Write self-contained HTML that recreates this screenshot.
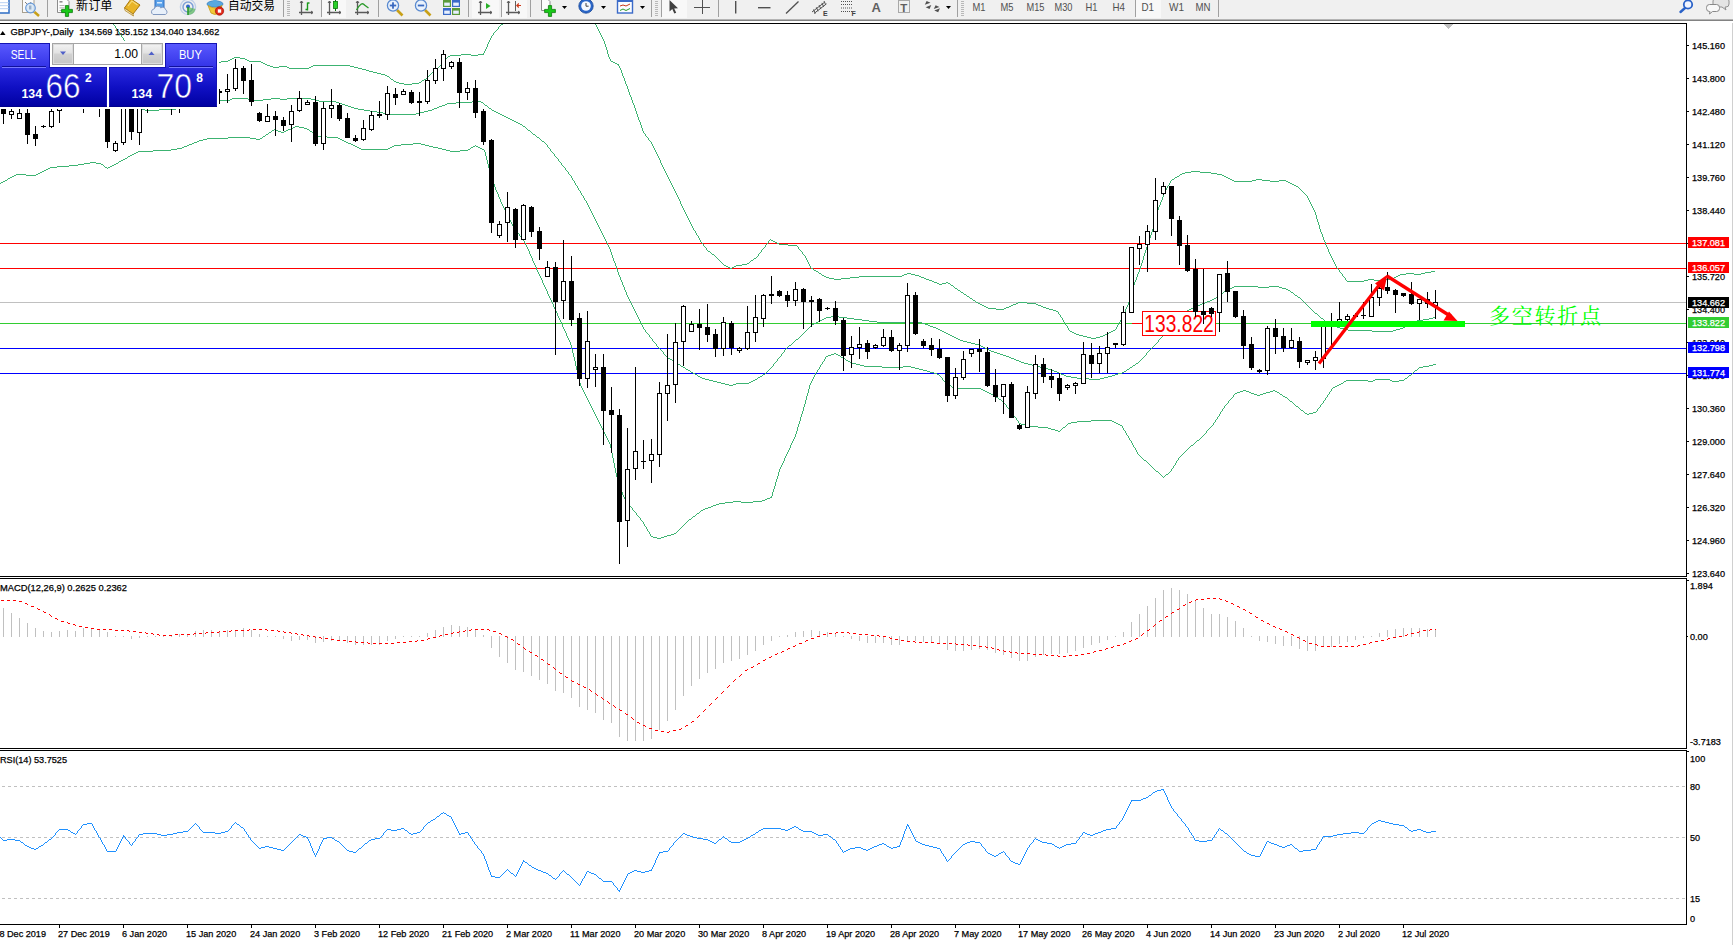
<!DOCTYPE html>
<html><head><meta charset="utf-8"><title>GBPJPY Daily</title>
<style>html,body{margin:0;padding:0;background:#fff}body{width:1733px;height:945px;overflow:hidden}svg{display:block}text{font-family:"Liberation Sans","Noto Sans CJK SC",sans-serif}</style>
</head><body>
<svg width="1733" height="945" viewBox="0 0 1733 945">
<defs>
<linearGradient id="gb" gradientUnits="userSpaceOnUse" x1="0" y1="43" x2="0" y2="68"><stop offset="0" stop-color="#5a5aff"/><stop offset="1" stop-color="#3232e6"/></linearGradient>
<linearGradient id="gp" gradientUnits="userSpaceOnUse" x1="0" y1="67" x2="0" y2="107"><stop offset="0" stop-color="#2a2ae0"/><stop offset="0.5" stop-color="#1010c4"/><stop offset="1" stop-color="#0000a0"/></linearGradient>
<linearGradient id="gs" x1="0" y1="0" x2="0" y2="1"><stop offset="0" stop-color="#f2f2f2"/><stop offset="0.45" stop-color="#e2e2e2"/><stop offset="0.5" stop-color="#d2d2d2"/><stop offset="1" stop-color="#c6c6c6"/></linearGradient>
<clipPath id="cm"><rect x="0" y="24" width="1686" height="552"/></clipPath>
</defs>
<rect x="0" y="0" width="1733" height="945" fill="#fff"/>
<g shape-rendering="crispEdges">
<g clip-path="url(#cm)">
<rect x="0" y="302" width="1686" height="1" fill="#c0c0c0"/>
<rect x="0" y="243" width="1686" height="1" fill="#ff0000"/>
<rect x="0" y="268" width="1686" height="1" fill="#ff0000"/>
<rect x="0" y="323" width="1686" height="1" fill="#32cd32"/>
<rect x="0" y="348" width="1686" height="1" fill="#0000ff"/>
<rect x="0" y="373" width="1686" height="1" fill="#0000ff"/>
<path d="M105.5 11v2M107.5 14v2M109.5 17v2M111.5 20v2M113.5 23v2M115.5 26v2M117.5 29v2M119.5 32v2M121.5 35v2M123.5 38v2M443.5 61v2M483.5 53v2M484.5 51v2M485.5 49v2M486.5 47v2M487.5 44v3M488.5 42v2M489.5 40v2M490.5 38v2M491.5 36v2M493.5 33v2M498.5 27v2M589.5 11v2M590.5 13v2M591.5 15v2M592.5 17v2M593.5 19v2M594.5 21v2M595.5 23v2M596.5 25v2M597.5 27v2M598.5 29v2M599.5 31v2M600.5 33v2M601.5 35v2M602.5 37v2M603.5 39v2M604.5 41v3M605.5 44v3M606.5 47v3M607.5 50v4M608.5 54v3M609.5 57v2M610.5 59v2M618.5 64v2M619.5 66v2M620.5 68v2M621.5 70v3M622.5 73v3M623.5 76v2M624.5 78v3M625.5 81v3M626.5 84v2M627.5 86v3M628.5 89v3M629.5 92v3M630.5 95v2M631.5 97v3M632.5 100v3M633.5 103v2M634.5 105v3M635.5 108v3M636.5 111v3M637.5 114v3M638.5 117v3M639.5 120v2M640.5 122v3M641.5 125v3M642.5 128v3M643.5 131v2M645.5 134v2M648.5 138v2M651.5 142v2M652.5 144v2M653.5 146v2M654.5 148v2M655.5 150v2M656.5 152v2M657.5 154v2M658.5 156v2M659.5 158v2M660.5 160v3M661.5 163v2M662.5 165v2M663.5 167v2M664.5 169v2M665.5 171v2M666.5 173v2M667.5 175v2M668.5 177v2M669.5 179v2M670.5 181v2M671.5 183v2M672.5 185v2M673.5 187v2M674.5 189v2M675.5 191v2M676.5 193v2M677.5 195v2M678.5 197v2M679.5 199v2M680.5 201v3M681.5 204v2M682.5 206v2M683.5 208v2M684.5 210v2M685.5 212v2M686.5 214v2M687.5 216v2M688.5 218v2M689.5 220v2M690.5 222v2M691.5 224v2M692.5 226v2M693.5 228v2M695.5 231v2M696.5 233v2M698.5 236v2M699.5 238v2M700.5 240v2M703.5 244v2M706.5 248v2M758.5 254v2M761.5 250v2M765.5 245v2M768.5 241v2M798.5 247v2M802.5 252v2M805.5 256v2M806.5 258v2M807.5 260v2M808.5 262v2M809.5 264v2M810.5 266v2M1058.5 312v2M1060.5 315v2M1062.5 318v2M1063.5 320v2M1065.5 323v2M1067.5 326v2M1068.5 328v2M1116.5 327v2M1117.5 325v2M1118.5 323v2M1120.5 320v2M1121.5 318v2M1122.5 316v2M1123.5 314v2M1124.5 312v2M1125.5 309v3M1126.5 307v2M1127.5 305v2M1128.5 302v3M1129.5 300v2M1130.5 297v3M1131.5 293v4M1132.5 289v4M1133.5 285v4M1134.5 282v3M1135.5 280v2M1136.5 277v3M1137.5 274v3M1138.5 272v2M1139.5 269v3M1140.5 266v3M1141.5 263v3M1142.5 260v3M1143.5 256v4M1144.5 253v3M1145.5 250v3M1146.5 247v3M1147.5 244v3M1148.5 241v3M1149.5 238v3M1150.5 235v3M1151.5 232v3M1152.5 229v3M1153.5 225v4M1154.5 221v4M1155.5 218v3M1156.5 214v4M1157.5 210v4M1158.5 207v3M1159.5 205v2M1160.5 202v3M1161.5 200v2M1162.5 197v3M1163.5 194v3M1164.5 192v2M1165.5 190v2M1166.5 188v2M1167.5 186v2M1169.5 183v2M1170.5 181v2M1307.5 196v2M1308.5 198v2M1309.5 200v2M1310.5 202v2M1311.5 204v2M1312.5 206v2M1313.5 208v2M1314.5 210v2M1315.5 212v3M1316.5 215v4M1317.5 219v3M1318.5 222v3M1319.5 225v4M1320.5 229v3M1321.5 232v2M1322.5 234v3M1323.5 237v3M1324.5 240v2M1325.5 242v3M1326.5 245v2M1327.5 247v2M1328.5 249v3M1329.5 252v2M1330.5 254v2M1331.5 256v2M1332.5 258v2M1333.5 260v2M1334.5 262v2M1335.5 264v2M1336.5 266v2M1339.5 270v2M1342.5 274v2M1345.5 278v2M104 10.5h1M588 10.5h1M106 13.5h1M108 16.5h1M110 19.5h1M506 20.5h1M505 21.5h1M112 22.5h1M504 22.5h1M503 23.5h1M501 24.5h2M114 25.5h1M500 25.5h1M499 26.5h1M116 28.5h1M497 29.5h1M496 30.5h1M118 31.5h1M495 31.5h1M494 32.5h1M120 34.5h1M492 35.5h1M122 37.5h1M124 40.5h1M461 54.5h10M478 54.5h5M450 55.5h11M471 55.5h7M448 56.5h2M234 57.5h6M447 57.5h1M232 58.5h2M240 58.5h5M446 58.5h1M230 59.5h2M245 59.5h2M445 59.5h1M228 60.5h2M247 60.5h2M444 60.5h1M221 61.5h7M249 61.5h12M611 61.5h2M218 62.5h3M261 62.5h2M613 62.5h2M263 63.5h2M442 63.5h1M615 63.5h2M265 64.5h2M441 64.5h1M617 64.5h1M267 65.5h3M313 65.5h37M440 65.5h1M270 66.5h3M279 66.5h8M311 66.5h2M350 66.5h4M439 66.5h1M273 67.5h6M287 67.5h2M309 67.5h2M354 67.5h4M438 67.5h1M289 68.5h20M358 68.5h4M437 68.5h1M362 69.5h4M436 69.5h1M366 70.5h3M435 70.5h1M369 71.5h4M434 71.5h1M373 72.5h4M432 72.5h2M377 73.5h4M431 73.5h1M381 74.5h4M430 74.5h1M385 75.5h2M429 75.5h1M387 76.5h2M428 76.5h1M389 77.5h1M427 77.5h1M390 78.5h1M426 78.5h1M391 79.5h2M424 79.5h2M393 80.5h1M422 80.5h2M394 81.5h2M421 81.5h1M396 82.5h3M419 82.5h2M399 83.5h5M412 83.5h7M404 84.5h8M644 133.5h1M646 136.5h1M647 137.5h1M649 140.5h1M650 141.5h1M1191 171.5h9M1185 172.5h6M1200 172.5h11M1182 173.5h3M1211 173.5h6M1180 174.5h2M1217 174.5h5M1179 175.5h1M1222 175.5h2M1177 176.5h2M1224 176.5h2M1175 177.5h2M1226 177.5h2M1174 178.5h1M1228 178.5h2M1172 179.5h2M1230 179.5h2M1256 179.5h6M1171 180.5h1M1232 180.5h2M1252 180.5h4M1262 180.5h8M1279 180.5h7M1234 181.5h18M1270 181.5h9M1286 181.5h2M1288 182.5h2M1290 183.5h2M1292 184.5h2M1168 185.5h1M1294 185.5h2M1296 186.5h2M1298 187.5h1M1299 188.5h1M1300 189.5h1M1301 190.5h1M1302 191.5h1M1303 192.5h1M1304 193.5h1M1305 194.5h1M1306 195.5h1M694 230.5h1M697 235.5h1M770 239.5h1M769 240.5h1M771 240.5h2M773 241.5h2M701 242.5h1M775 242.5h2M702 243.5h1M767 243.5h1M777 243.5h2M766 244.5h1M779 244.5h9M788 245.5h9M704 246.5h1M797 246.5h1M705 247.5h1M764 247.5h1M763 248.5h1M762 249.5h1M799 249.5h1M707 250.5h1M800 250.5h1M708 251.5h2M801 251.5h1M710 252.5h1M760 252.5h1M711 253.5h1M759 253.5h1M712 254.5h2M803 254.5h1M714 255.5h1M804 255.5h1M715 256.5h1M757 256.5h1M716 257.5h1M756 257.5h1M717 258.5h1M754 258.5h2M718 259.5h1M753 259.5h1M719 260.5h1M751 260.5h2M720 261.5h1M750 261.5h1M721 262.5h1M749 262.5h1M722 263.5h1M747 263.5h2M723 264.5h1M742 264.5h5M724 265.5h2M736 265.5h6M726 266.5h2M734 266.5h2M728 267.5h2M732 267.5h2M730 268.5h2M811 268.5h2M1337 268.5h1M813 269.5h1M1338 269.5h1M814 270.5h2M816 271.5h2M1431 271.5h4M818 272.5h1M1340 272.5h1M1425 272.5h6M819 273.5h2M907 273.5h4M1341 273.5h1M1406 273.5h8M1421 273.5h4M821 274.5h1M904 274.5h3M911 274.5h4M1400 274.5h6M1414 274.5h7M822 275.5h2M902 275.5h2M915 275.5h4M1398 275.5h2M824 276.5h2M859 276.5h43M919 276.5h2M1343 276.5h1M1396 276.5h2M826 277.5h3M850 277.5h9M921 277.5h3M1344 277.5h1M1394 277.5h2M829 278.5h5M841 278.5h9M924 278.5h2M1392 278.5h2M834 279.5h7M926 279.5h3M1368 279.5h6M1385 279.5h7M929 280.5h3M1346 280.5h1M1364 280.5h4M1374 280.5h11M932 281.5h2M1347 281.5h17M934 282.5h3M946 282.5h2M937 283.5h2M942 283.5h4M948 283.5h2M939 284.5h3M950 284.5h1M951 285.5h2M953 286.5h1M954 287.5h1M955 288.5h2M957 289.5h1M958 290.5h2M960 291.5h1M961 292.5h2M963 293.5h1M964 294.5h2M966 295.5h1M967 296.5h2M969 297.5h1M970 298.5h2M972 299.5h1M973 300.5h2M975 301.5h1M976 302.5h2M1018 302.5h9M978 303.5h2M1016 303.5h2M1027 303.5h9M980 304.5h2M1013 304.5h3M1036 304.5h2M982 305.5h2M1011 305.5h2M1038 305.5h3M984 306.5h2M1009 306.5h2M1041 306.5h2M986 307.5h2M1006 307.5h3M1043 307.5h3M988 308.5h8M1004 308.5h2M1046 308.5h3M996 309.5h8M1049 309.5h4M1053 310.5h3M1056 311.5h2M1059 314.5h1M1061 317.5h1M1064 322.5h1M1119 322.5h1M1066 325.5h1M1115 329.5h1M1069 330.5h1M1113 330.5h2M1070 331.5h2M1111 331.5h2M1072 332.5h2M1109 332.5h2M1074 333.5h2M1107 333.5h2M1076 334.5h3M1105 334.5h2M1079 335.5h4M1103 335.5h2M1083 336.5h4M1100 336.5h3M1087 337.5h4M1096 337.5h4M1091 338.5h5" fill="none" stroke="#3cb371" stroke-width="1"/>
<path d="M547.5 145v2M550.5 149v2M554.5 154v2M558.5 159v2M561.5 163v2M565.5 168v2M568.5 172v2M571.5 176v2M572.5 178v2M574.5 181v2M575.5 183v2M577.5 186v2M578.5 188v2M580.5 191v2M581.5 193v2M583.5 196v2M584.5 198v2M586.5 201v2M587.5 203v2M588.5 205v2M589.5 207v2M590.5 209v2M591.5 211v2M592.5 213v2M593.5 215v2M594.5 217v2M595.5 219v2M596.5 221v2M597.5 223v2M598.5 225v2M599.5 227v2M600.5 229v2M601.5 231v2M602.5 233v2M603.5 235v2M604.5 237v2M605.5 239v2M606.5 241v2M607.5 243v2M608.5 245v2M609.5 247v2M610.5 249v3M611.5 252v3M612.5 255v3M613.5 258v3M614.5 261v2M615.5 263v3M616.5 266v3M617.5 269v3M618.5 272v3M619.5 275v2M620.5 277v3M621.5 280v2M622.5 282v3M623.5 285v2M624.5 287v3M625.5 290v2M626.5 292v3M627.5 295v2M628.5 297v2M629.5 299v2M630.5 301v2M631.5 303v2M632.5 305v2M633.5 307v2M634.5 309v2M635.5 311v2M636.5 313v2M637.5 315v2M638.5 317v2M639.5 319v2M640.5 321v2M641.5 323v2M642.5 325v2M643.5 327v2M645.5 330v2M649.5 335v2M652.5 339v2M656.5 344v2M663.5 352v2M773.5 364v2M777.5 359v2M781.5 354v2M784.5 350v2M1146.5 353v2M1158.5 340v2M1166.5 331v2M1171.5 325v2M232 98.5h16M271 98.5h9M287 98.5h24M230 99.5h2M248 99.5h4M263 99.5h8M280 99.5h7M311 99.5h4M0 100.5h15M215 100.5h15M252 100.5h11M315 100.5h4M15 101.5h30M205 101.5h10M319 101.5h17M472 101.5h9M45 102.5h30M198 102.5h7M336 102.5h3M456 102.5h16M481 102.5h2M75 103.5h30M193 103.5h5M339 103.5h3M447 103.5h9M483 103.5h1M105 104.5h19M188 104.5h5M342 104.5h3M445 104.5h2M484 104.5h1M124 105.5h7M183 105.5h5M345 105.5h3M442 105.5h3M485 105.5h2M131 106.5h5M180 106.5h3M348 106.5h3M439 106.5h3M487 106.5h1M136 107.5h2M178 107.5h2M351 107.5h3M437 107.5h2M488 107.5h1M138 108.5h3M176 108.5h2M354 108.5h4M434 108.5h3M489 108.5h2M141 109.5h4M159 109.5h17M358 109.5h6M432 109.5h2M491 109.5h1M145 110.5h14M364 110.5h6M428 110.5h4M492 110.5h2M370 111.5h7M424 111.5h4M494 111.5h2M377 112.5h6M420 112.5h4M496 112.5h2M383 113.5h7M416 113.5h4M498 113.5h2M390 114.5h26M500 114.5h2M502 115.5h2M504 116.5h2M506 117.5h2M508 118.5h2M510 119.5h2M512 120.5h2M514 121.5h2M516 122.5h2M518 123.5h2M520 124.5h2M522 125.5h1M523 126.5h2M525 127.5h1M526 128.5h1M527 129.5h1M528 130.5h2M530 131.5h1M531 132.5h1M532 133.5h1M533 134.5h2M535 135.5h1M536 136.5h1M537 137.5h2M539 138.5h1M540 139.5h1M541 140.5h1M542 141.5h2M544 142.5h1M545 143.5h1M546 144.5h1M548 147.5h1M549 148.5h1M551 151.5h1M552 152.5h1M553 153.5h1M555 156.5h1M556 157.5h1M557 158.5h1M559 161.5h1M560 162.5h1M562 165.5h1M563 166.5h1M564 167.5h1M566 170.5h1M567 171.5h1M569 174.5h1M570 175.5h1M573 180.5h1M576 185.5h1M579 190.5h1M582 195.5h1M585 200.5h1M1234 286.5h24M1269 286.5h10M1232 287.5h2M1258 287.5h11M1279 287.5h3M1230 288.5h2M1282 288.5h4M1228 289.5h2M1286 289.5h2M1226 290.5h2M1288 290.5h2M1224 291.5h2M1290 291.5h1M1223 292.5h1M1291 292.5h2M1221 293.5h2M1293 293.5h1M1220 294.5h1M1294 294.5h1M1218 295.5h2M1295 295.5h2M1217 296.5h1M1297 296.5h1M1216 297.5h1M1298 297.5h2M1214 298.5h2M1300 298.5h1M1212 299.5h2M1301 299.5h1M1210 300.5h2M1302 300.5h1M1207 301.5h3M1303 301.5h1M1205 302.5h2M1304 302.5h1M1202 303.5h3M1305 303.5h1M1200 304.5h2M1306 304.5h1M1197 305.5h3M1307 305.5h1M1195 306.5h2M1308 306.5h1M1193 307.5h2M1309 307.5h1M1191 308.5h2M1310 308.5h1M1189 309.5h2M1311 309.5h1M1187 310.5h2M1312 310.5h1M1186 311.5h1M1313 311.5h1M1185 312.5h1M1314 312.5h1M1184 313.5h1M1315 313.5h2M1183 314.5h1M1317 314.5h1M1182 315.5h1M1318 315.5h1M831 316.5h8M1180 316.5h2M1319 316.5h1M826 317.5h5M839 317.5h8M1179 317.5h1M1320 317.5h1M1433 317.5h2M824 318.5h2M847 318.5h7M1178 318.5h1M1321 318.5h2M1429 318.5h4M822 319.5h2M854 319.5h8M1177 319.5h1M1323 319.5h1M1423 319.5h6M820 320.5h2M862 320.5h7M1176 320.5h1M1324 320.5h1M1417 320.5h6M818 321.5h2M869 321.5h8M1175 321.5h1M1325 321.5h2M1415 321.5h2M816 322.5h2M877 322.5h45M1174 322.5h1M1327 322.5h2M1413 322.5h2M814 323.5h2M922 323.5h3M1173 323.5h1M1329 323.5h2M1411 323.5h2M812 324.5h2M925 324.5h3M1172 324.5h1M1331 324.5h2M1409 324.5h2M811 325.5h1M928 325.5h2M1333 325.5h2M1407 325.5h2M810 326.5h1M930 326.5h3M1335 326.5h2M1405 326.5h2M809 327.5h1M933 327.5h3M1170 327.5h1M1337 327.5h3M1403 327.5h2M808 328.5h1M936 328.5h2M1169 328.5h1M1340 328.5h4M1400 328.5h3M644 329.5h1M807 329.5h1M938 329.5h2M1168 329.5h1M1344 329.5h4M1396 329.5h4M806 330.5h1M940 330.5h2M1167 330.5h1M1348 330.5h24M1393 330.5h3M805 331.5h1M942 331.5h2M1372 331.5h21M646 332.5h1M804 332.5h1M944 332.5h2M647 333.5h1M803 333.5h1M946 333.5h2M1165 333.5h1M648 334.5h1M802 334.5h1M948 334.5h2M1164 334.5h1M801 335.5h1M950 335.5h2M1163 335.5h1M800 336.5h1M952 336.5h2M1162 336.5h1M650 337.5h1M799 337.5h1M954 337.5h2M1161 337.5h1M651 338.5h1M798 338.5h1M956 338.5h2M1160 338.5h1M796 339.5h2M958 339.5h2M1159 339.5h1M795 340.5h1M960 340.5h3M653 341.5h1M794 341.5h1M963 341.5h4M654 342.5h1M793 342.5h1M967 342.5h4M1157 342.5h1M655 343.5h1M792 343.5h1M971 343.5h4M1156 343.5h1M791 344.5h1M975 344.5h4M1155 344.5h1M789 345.5h2M979 345.5h2M1154 345.5h1M657 346.5h1M788 346.5h1M981 346.5h2M1153 346.5h1M658 347.5h1M787 347.5h1M983 347.5h2M1152 347.5h1M659 348.5h1M786 348.5h1M985 348.5h2M1151 348.5h1M660 349.5h1M785 349.5h1M987 349.5h2M1150 349.5h1M661 350.5h1M989 350.5h2M1149 350.5h1M662 351.5h1M991 351.5h3M1148 351.5h1M783 352.5h1M994 352.5h3M1147 352.5h1M782 353.5h1M997 353.5h3M664 354.5h1M1000 354.5h3M665 355.5h1M1003 355.5h3M1145 355.5h1M666 356.5h1M780 356.5h1M1006 356.5h3M1144 356.5h1M667 357.5h1M779 357.5h1M1009 357.5h2M1143 357.5h1M668 358.5h2M778 358.5h1M1011 358.5h3M1142 358.5h1M670 359.5h2M1014 359.5h2M1141 359.5h1M672 360.5h1M1016 360.5h3M1140 360.5h1M673 361.5h2M776 361.5h1M1019 361.5h2M1139 361.5h1M675 362.5h1M775 362.5h1M1021 362.5h3M1138 362.5h1M676 363.5h2M774 363.5h1M1024 363.5h4M1136 363.5h2M678 364.5h2M1028 364.5h4M1135 364.5h1M680 365.5h1M1032 365.5h4M1133 365.5h2M681 366.5h2M772 366.5h1M1036 366.5h4M1132 366.5h1M683 367.5h2M771 367.5h1M1040 367.5h4M1130 367.5h2M685 368.5h1M770 368.5h1M1044 368.5h4M1129 368.5h1M686 369.5h2M769 369.5h1M1048 369.5h4M1127 369.5h2M688 370.5h2M768 370.5h1M1052 370.5h2M1126 370.5h1M690 371.5h1M767 371.5h1M1054 371.5h3M1124 371.5h2M691 372.5h2M766 372.5h1M1057 372.5h2M1122 372.5h2M693 373.5h2M765 373.5h1M1059 373.5h2M1118 373.5h4M695 374.5h2M763 374.5h2M1061 374.5h3M1115 374.5h3M697 375.5h1M762 375.5h1M1064 375.5h2M1112 375.5h3M698 376.5h2M760 376.5h2M1066 376.5h5M1108 376.5h4M700 377.5h2M758 377.5h2M1071 377.5h6M1104 377.5h4M702 378.5h3M757 378.5h1M1077 378.5h12M1100 378.5h4M705 379.5h4M755 379.5h2M1089 379.5h11M709 380.5h4M753 380.5h2M713 381.5h4M751 381.5h2M717 382.5h4M749 382.5h2M721 383.5h4M736 383.5h13M725 384.5h4M733 384.5h3M729 385.5h4" fill="none" stroke="#3cb371" stroke-width="1"/>
<path d="M484.5 150v2M485.5 152v4M486.5 156v4M487.5 160v4M488.5 164v4M489.5 168v3M490.5 171v3M491.5 174v3M492.5 177v4M493.5 181v3M494.5 184v3M495.5 187v3M496.5 190v2M497.5 192v2M498.5 194v3M499.5 197v2M500.5 199v3M501.5 202v2M502.5 204v2M503.5 206v2M504.5 208v2M505.5 210v2M506.5 212v2M507.5 214v2M508.5 216v2M509.5 218v2M510.5 220v2M511.5 222v2M512.5 224v2M515.5 228v2M517.5 231v2M519.5 234v2M522.5 238v2M524.5 241v2M525.5 243v2M526.5 245v2M527.5 247v2M528.5 249v2M529.5 251v3M530.5 254v2M531.5 256v2M532.5 258v3M533.5 261v2M534.5 263v2M535.5 265v2M536.5 267v3M537.5 270v2M538.5 272v2M539.5 274v2M540.5 276v2M541.5 278v2M542.5 280v3M543.5 283v2M544.5 285v2M545.5 287v2M546.5 289v2M547.5 291v3M548.5 294v2M549.5 296v2M550.5 298v2M551.5 300v2M552.5 302v2M553.5 304v3M554.5 307v2M555.5 309v2M556.5 311v2M557.5 313v3M558.5 316v2M559.5 318v2M560.5 320v2M561.5 322v2M562.5 324v3M563.5 327v2M564.5 329v2M565.5 331v2M566.5 333v3M567.5 336v2M568.5 338v2M569.5 340v2M570.5 342v3M571.5 345v4M572.5 349v4M573.5 353v4M574.5 357v4M575.5 361v5M576.5 366v4M577.5 370v4M578.5 374v5M579.5 379v4M580.5 383v3M581.5 386v2M582.5 388v2M583.5 390v2M584.5 392v2M585.5 394v2M586.5 396v2M587.5 398v2M588.5 400v2M589.5 402v2M590.5 404v2M591.5 406v2M592.5 408v2M593.5 410v2M594.5 412v2M595.5 414v2M596.5 416v2M597.5 418v2M598.5 420v2M599.5 422v2M600.5 424v2M601.5 426v2M602.5 428v2M603.5 430v2M604.5 432v2M605.5 434v2M606.5 436v2M607.5 438v2M608.5 440v2M609.5 442v2M610.5 444v4M611.5 448v5M612.5 453v5M613.5 458v5M614.5 463v5M615.5 468v5M616.5 473v4M617.5 477v3M618.5 480v3M619.5 483v3M620.5 486v3M621.5 489v3M622.5 492v3M623.5 495v2M624.5 497v2M627.5 501v2M629.5 504v2M632.5 508v2M636.5 513v2M640.5 518v2M643.5 522v2M644.5 524v2M646.5 527v2M647.5 529v2M649.5 532v2M650.5 534v2M771.5 496v2M772.5 492v4M773.5 489v3M774.5 486v3M775.5 482v4M776.5 479v3M777.5 476v3M778.5 472v4M779.5 469v3M780.5 467v2M781.5 465v2M782.5 463v2M783.5 461v2M784.5 458v3M785.5 456v2M786.5 454v2M787.5 452v2M788.5 450v2M789.5 448v2M790.5 445v3M791.5 443v2M792.5 441v2M793.5 439v2M794.5 437v2M795.5 434v3M796.5 431v3M797.5 427v4M798.5 424v3M799.5 421v3M800.5 417v4M801.5 414v3M802.5 411v3M803.5 407v4M804.5 404v3M805.5 400v4M806.5 396v4M807.5 393v3M808.5 389v4M809.5 385v4M810.5 383v2M811.5 381v2M812.5 379v2M813.5 377v2M814.5 375v2M815.5 373v2M817.5 370v2M819.5 367v2M820.5 365v2M822.5 362v2M824.5 359v2M825.5 357v2M942.5 378v2M1006.5 405v2M1011.5 411v2M1013.5 414v2M1016.5 418v2M1018.5 421v2M1122.5 426v2M1123.5 428v2M1125.5 431v2M1126.5 433v2M1128.5 436v2M1129.5 438v2M1131.5 441v2M1132.5 443v2M1133.5 445v2M1135.5 448v2M1136.5 450v2M1137.5 452v2M1171.5 469v2M1173.5 466v2M1175.5 463v2M1176.5 461v2M1178.5 458v2M1206.5 431v2M1213.5 423v2M1215.5 420v2M1217.5 417v2M1219.5 414v2M1220.5 412v2M1222.5 409v2M1224.5 406v2M1228.5 401v2M1233.5 395v2M1317.5 409v2M1320.5 405v2M1323.5 401v2M1325.5 398v2M1327.5 395v2M1329.5 392v2M1331.5 389v2M295 126.5h4M293 127.5h2M299 127.5h5M291 128.5h2M304 128.5h3M274 129.5h2M288 129.5h3M307 129.5h2M272 130.5h2M276 130.5h2M286 130.5h2M309 130.5h1M271 131.5h1M278 131.5h3M284 131.5h2M310 131.5h2M269 132.5h2M281 132.5h3M312 132.5h1M268 133.5h1M313 133.5h2M266 134.5h2M315 134.5h1M265 135.5h1M316 135.5h2M263 136.5h2M318 136.5h9M228 137.5h22M262 137.5h1M327 137.5h11M207 138.5h21M250 138.5h6M260 138.5h2M338 138.5h2M203 139.5h4M256 139.5h4M340 139.5h2M199 140.5h4M342 140.5h2M197 141.5h2M344 141.5h2M194 142.5h3M346 142.5h2M192 143.5h2M348 143.5h3M413 143.5h8M189 144.5h3M351 144.5h2M401 144.5h12M421 144.5h4M187 145.5h2M353 145.5h2M394 145.5h7M425 145.5h4M475 145.5h1M184 146.5h3M355 146.5h2M392 146.5h2M429 146.5h4M473 146.5h2M476 146.5h2M182 147.5h2M357 147.5h2M390 147.5h2M433 147.5h5M471 147.5h2M478 147.5h2M177 148.5h5M359 148.5h2M388 148.5h2M438 148.5h4M470 148.5h1M480 148.5h2M171 149.5h6M361 149.5h27M442 149.5h4M468 149.5h2M482 149.5h2M153 150.5h18M446 150.5h4M460 150.5h8M138 151.5h15M450 151.5h10M136 152.5h2M134 153.5h2M132 154.5h2M130 155.5h2M128 156.5h2M127 157.5h1M125 158.5h2M123 159.5h2M121 160.5h2M119 161.5h2M90 162.5h6M118 162.5h1M84 163.5h6M96 163.5h5M116 163.5h2M78 164.5h6M101 164.5h2M114 164.5h2M69 165.5h9M103 165.5h1M112 165.5h2M57 166.5h12M104 166.5h1M110 166.5h2M50 167.5h7M105 167.5h2M108 167.5h2M48 168.5h2M107 168.5h1M46 169.5h2M44 170.5h2M42 171.5h2M40 172.5h2M38 173.5h2M16 174.5h10M36 174.5h2M14 175.5h2M26 175.5h10M12 176.5h2M10 177.5h2M8 178.5h2M7 179.5h1M5 180.5h2M3 181.5h2M1 182.5h2M0 183.5h1M513 226.5h1M514 227.5h1M516 230.5h1M518 233.5h1M520 236.5h1M521 237.5h1M523 240.5h1M834 353.5h2M831 354.5h3M836 354.5h2M828 355.5h3M838 355.5h2M826 356.5h2M840 356.5h1M841 357.5h2M843 358.5h2M845 359.5h1M846 360.5h2M823 361.5h1M848 361.5h2M850 362.5h2M852 363.5h4M821 364.5h1M856 364.5h4M1433 364.5h3M860 365.5h4M1429 365.5h4M864 366.5h18M903 366.5h8M1423 366.5h6M882 367.5h21M911 367.5h4M1419 367.5h4M915 368.5h4M1418 368.5h1M818 369.5h1M919 369.5h4M1417 369.5h1M923 370.5h4M1415 370.5h2M927 371.5h3M1414 371.5h1M816 372.5h1M930 372.5h4M1413 372.5h1M934 373.5h3M1412 373.5h1M937 374.5h2M1411 374.5h1M939 375.5h1M1409 375.5h2M940 376.5h1M1408 376.5h1M941 377.5h1M1407 377.5h1M1405 378.5h2M1375 379.5h15M1404 379.5h1M943 380.5h1M1346 380.5h22M1373 380.5h2M1390 380.5h2M1399 380.5h5M944 381.5h1M1344 381.5h2M1368 381.5h5M1392 381.5h7M945 382.5h1M1343 382.5h1M946 383.5h2M1341 383.5h2M948 384.5h1M1339 384.5h2M949 385.5h2M1337 385.5h2M951 386.5h1M1335 386.5h2M952 387.5h2M1333 387.5h2M954 388.5h27M1332 388.5h1M981 389.5h2M983 390.5h2M1243 390.5h3M1273 390.5h2M985 391.5h2M1240 391.5h3M1246 391.5h3M1270 391.5h3M1275 391.5h2M1330 391.5h1M987 392.5h2M1237 392.5h3M1249 392.5h2M1266 392.5h4M1277 392.5h2M989 393.5h2M1235 393.5h2M1251 393.5h3M1263 393.5h3M1279 393.5h1M991 394.5h2M1234 394.5h1M1254 394.5h3M1260 394.5h3M1280 394.5h2M1328 394.5h1M993 395.5h1M1257 395.5h3M1282 395.5h1M994 396.5h2M1283 396.5h2M996 397.5h2M1232 397.5h1M1285 397.5h2M1326 397.5h1M998 398.5h1M1231 398.5h1M1287 398.5h1M999 399.5h2M1230 399.5h1M1288 399.5h1M1001 400.5h1M1229 400.5h1M1289 400.5h1M1324 400.5h1M1002 401.5h1M1290 401.5h2M1003 402.5h1M1292 402.5h1M1004 403.5h1M1227 403.5h1M1293 403.5h1M1322 403.5h1M1005 404.5h1M1226 404.5h1M1294 404.5h1M1321 404.5h1M1225 405.5h1M1295 405.5h1M1296 406.5h2M1007 407.5h1M1298 407.5h1M1319 407.5h1M1008 408.5h1M1223 408.5h1M1299 408.5h1M1318 408.5h1M1009 409.5h1M1300 409.5h1M1010 410.5h1M1301 410.5h2M1221 411.5h1M1303 411.5h1M1316 411.5h1M1304 412.5h1M1313 412.5h3M1012 413.5h1M1305 413.5h2M1309 413.5h4M1307 414.5h2M1014 416.5h1M1218 416.5h1M1015 417.5h1M1216 419.5h1M1017 420.5h1M1091 420.5h21M1077 421.5h14M1112 421.5h2M1071 422.5h6M1114 422.5h2M1214 422.5h1M1019 423.5h2M1068 423.5h3M1116 423.5h2M1021 424.5h4M1067 424.5h1M1118 424.5h2M1025 425.5h4M1066 425.5h1M1120 425.5h2M1212 425.5h1M1029 426.5h9M1065 426.5h1M1211 426.5h1M1038 427.5h10M1063 427.5h2M1210 427.5h1M1048 428.5h3M1062 428.5h1M1209 428.5h1M1051 429.5h4M1061 429.5h1M1208 429.5h1M1055 430.5h3M1060 430.5h1M1124 430.5h1M1207 430.5h1M1058 431.5h2M1205 433.5h1M1204 434.5h1M1127 435.5h1M1203 435.5h1M1202 436.5h1M1201 437.5h1M1200 438.5h1M1199 439.5h1M1130 440.5h1M1197 440.5h2M1196 441.5h1M1195 442.5h1M1194 443.5h1M1193 444.5h1M1191 445.5h2M1190 446.5h1M1134 447.5h1M1189 447.5h1M1188 448.5h1M1187 449.5h1M1186 450.5h1M1185 451.5h1M1184 452.5h1M1183 453.5h1M1138 454.5h1M1182 454.5h1M1139 455.5h1M1181 455.5h1M1140 456.5h1M1180 456.5h1M1141 457.5h1M1179 457.5h1M1142 458.5h1M1143 459.5h1M1144 460.5h2M1177 460.5h1M1146 461.5h1M1147 462.5h1M1148 463.5h1M1149 464.5h1M1150 465.5h1M1174 465.5h1M1151 466.5h1M1152 467.5h1M1153 468.5h1M1172 468.5h1M1154 469.5h1M1155 470.5h1M1156 471.5h2M1170 471.5h1M1158 472.5h1M1169 472.5h1M1159 473.5h1M1168 473.5h1M1160 474.5h1M1166 474.5h2M1161 475.5h1M1165 475.5h1M1162 476.5h1M1164 476.5h1M1163 477.5h1M770 497.5h1M767 498.5h3M625 499.5h1M765 499.5h2M626 500.5h1M762 500.5h3M733 501.5h8M753 501.5h9M725 502.5h8M741 502.5h12M628 503.5h1M719 503.5h6M716 504.5h3M713 505.5h3M630 506.5h1M711 506.5h2M631 507.5h1M708 507.5h3M705 508.5h3M703 509.5h2M633 510.5h1M701 510.5h2M634 511.5h1M700 511.5h1M635 512.5h1M699 512.5h1M697 513.5h2M696 514.5h1M637 515.5h1M695 515.5h1M638 516.5h1M693 516.5h2M639 517.5h1M692 517.5h1M691 518.5h1M689 519.5h2M641 520.5h1M688 520.5h1M642 521.5h1M687 521.5h1M686 522.5h1M685 523.5h1M684 524.5h1M683 525.5h1M645 526.5h1M682 526.5h1M681 527.5h1M680 528.5h1M679 529.5h1M678 530.5h1M648 531.5h1M677 531.5h1M676 532.5h1M674 533.5h2M671 534.5h3M667 535.5h4M651 536.5h2M664 536.5h3M653 537.5h4M661 537.5h3M657 538.5h4" fill="none" stroke="#3cb371" stroke-width="1"/>
<rect x="1132" y="323" width="11" height="1" fill="#ff0000"/>
<rect x="1142.5" y="311.5" width="73" height="24" fill="#fff" stroke="#ff0000" stroke-width="1"/>
<text x="1144.3" y="331.8" font-size="23.6" fill="#ff0000" textLength="69.5" lengthAdjust="spacingAndGlyphs" shape-rendering="auto">133.822</text>
<rect x="3" y="100" width="1" height="24" fill="#000"/>
<rect x="1" y="104" width="5" height="10" fill="#000"/>
<rect x="11" y="104" width="1" height="15" fill="#000"/>
<rect x="9" y="111" width="5" height="4" fill="#000"/>
<rect x="10" y="112" width="3" height="2" fill="#fff"/>
<rect x="19" y="109" width="1" height="10" fill="#000"/>
<rect x="17" y="113" width="5" height="6" fill="#000"/>
<rect x="18" y="114" width="3" height="4" fill="#fff"/>
<rect x="27" y="109" width="1" height="35" fill="#000"/>
<rect x="25" y="113" width="5" height="22" fill="#000"/>
<rect x="35" y="126" width="1" height="20" fill="#000"/>
<rect x="33" y="134" width="5" height="5" fill="#000"/>
<rect x="43" y="125" width="1" height="3" fill="#000"/>
<rect x="41" y="126" width="5" height="1" fill="#000"/>
<rect x="51" y="106" width="1" height="22" fill="#000"/>
<rect x="49" y="111" width="5" height="16" fill="#000"/>
<rect x="50" y="112" width="3" height="14" fill="#fff"/>
<rect x="59" y="100" width="1" height="23" fill="#000"/>
<rect x="57" y="106" width="5" height="5" fill="#000"/>
<rect x="58" y="107" width="3" height="3" fill="#fff"/>
<rect x="67" y="95" width="1" height="11" fill="#000"/>
<rect x="65" y="98" width="5" height="6" fill="#000"/>
<rect x="66" y="99" width="3" height="4" fill="#fff"/>
<rect x="83" y="90" width="1" height="23" fill="#000"/>
<rect x="81" y="95" width="5" height="5" fill="#000"/>
<rect x="82" y="96" width="3" height="3" fill="#fff"/>
<rect x="99" y="95" width="1" height="22" fill="#000"/>
<rect x="97" y="100" width="5" height="5" fill="#000"/>
<rect x="107" y="100" width="1" height="48" fill="#000"/>
<rect x="105" y="103" width="5" height="39" fill="#000"/>
<rect x="115" y="141" width="1" height="11" fill="#000"/>
<rect x="113" y="143" width="5" height="8" fill="#000"/>
<rect x="114" y="144" width="3" height="6" fill="#fff"/>
<rect x="123" y="100" width="1" height="45" fill="#000"/>
<rect x="121" y="104" width="5" height="39" fill="#000"/>
<rect x="122" y="105" width="3" height="37" fill="#fff"/>
<rect x="131" y="100" width="1" height="40" fill="#000"/>
<rect x="129" y="104" width="5" height="28" fill="#000"/>
<rect x="139" y="98" width="1" height="47" fill="#000"/>
<rect x="137" y="104" width="5" height="29" fill="#000"/>
<rect x="138" y="105" width="3" height="27" fill="#fff"/>
<rect x="147" y="90" width="1" height="23" fill="#000"/>
<rect x="145" y="95" width="5" height="9" fill="#000"/>
<rect x="146" y="96" width="3" height="7" fill="#fff"/>
<rect x="171" y="90" width="1" height="25" fill="#000"/>
<rect x="169" y="95" width="5" height="9" fill="#000"/>
<rect x="170" y="96" width="3" height="7" fill="#fff"/>
<rect x="179" y="90" width="1" height="23" fill="#000"/>
<rect x="177" y="95" width="5" height="9" fill="#000"/>
<rect x="178" y="96" width="3" height="7" fill="#fff"/>
<rect x="219" y="89" width="1" height="15" fill="#000"/>
<rect x="217" y="91" width="5" height="2" fill="#000"/>
<rect x="227" y="74" width="1" height="29" fill="#000"/>
<rect x="225" y="89" width="5" height="3" fill="#000"/>
<rect x="226" y="90" width="3" height="1" fill="#fff"/>
<rect x="235" y="59" width="1" height="32" fill="#000"/>
<rect x="233" y="68" width="5" height="21" fill="#000"/>
<rect x="234" y="69" width="3" height="19" fill="#fff"/>
<rect x="243" y="66" width="1" height="28" fill="#000"/>
<rect x="241" y="68" width="5" height="13" fill="#000"/>
<rect x="251" y="64" width="1" height="42" fill="#000"/>
<rect x="249" y="80" width="5" height="22" fill="#000"/>
<rect x="259" y="112" width="1" height="10" fill="#000"/>
<rect x="257" y="113" width="5" height="8" fill="#000"/>
<rect x="267" y="104" width="1" height="18" fill="#000"/>
<rect x="265" y="116" width="5" height="6" fill="#000"/>
<rect x="266" y="117" width="3" height="4" fill="#fff"/>
<rect x="275" y="111" width="1" height="25" fill="#000"/>
<rect x="273" y="116" width="5" height="4" fill="#000"/>
<rect x="283" y="117" width="1" height="14" fill="#000"/>
<rect x="281" y="120" width="5" height="6" fill="#000"/>
<rect x="291" y="105" width="1" height="37" fill="#000"/>
<rect x="289" y="111" width="5" height="14" fill="#000"/>
<rect x="290" y="112" width="3" height="12" fill="#fff"/>
<rect x="299" y="91" width="1" height="21" fill="#000"/>
<rect x="297" y="98" width="5" height="13" fill="#000"/>
<rect x="298" y="99" width="3" height="11" fill="#fff"/>
<rect x="307" y="100" width="1" height="5" fill="#000"/>
<rect x="305" y="102" width="5" height="3" fill="#000"/>
<rect x="306" y="103" width="3" height="1" fill="#fff"/>
<rect x="315" y="96" width="1" height="50" fill="#000"/>
<rect x="313" y="102" width="5" height="42" fill="#000"/>
<rect x="323" y="102" width="1" height="48" fill="#000"/>
<rect x="321" y="108" width="5" height="36" fill="#000"/>
<rect x="322" y="109" width="3" height="34" fill="#fff"/>
<rect x="331" y="89" width="1" height="29" fill="#000"/>
<rect x="329" y="105" width="5" height="4" fill="#000"/>
<rect x="330" y="106" width="3" height="2" fill="#fff"/>
<rect x="339" y="103" width="1" height="18" fill="#000"/>
<rect x="337" y="105" width="5" height="14" fill="#000"/>
<rect x="347" y="113" width="1" height="25" fill="#000"/>
<rect x="345" y="118" width="5" height="20" fill="#000"/>
<rect x="355" y="135" width="1" height="7" fill="#000"/>
<rect x="353" y="138" width="5" height="3" fill="#000"/>
<rect x="363" y="120" width="1" height="21" fill="#000"/>
<rect x="361" y="128" width="5" height="12" fill="#000"/>
<rect x="362" y="129" width="3" height="10" fill="#fff"/>
<rect x="371" y="111" width="1" height="20" fill="#000"/>
<rect x="369" y="115" width="5" height="15" fill="#000"/>
<rect x="370" y="116" width="3" height="13" fill="#fff"/>
<rect x="379" y="101" width="1" height="17" fill="#000"/>
<rect x="377" y="114" width="5" height="2" fill="#000"/>
<rect x="387" y="86" width="1" height="34" fill="#000"/>
<rect x="385" y="93" width="5" height="22" fill="#000"/>
<rect x="386" y="94" width="3" height="20" fill="#fff"/>
<rect x="395" y="88" width="1" height="17" fill="#000"/>
<rect x="393" y="94" width="5" height="4" fill="#000"/>
<rect x="403" y="89" width="1" height="6" fill="#000"/>
<rect x="401" y="91" width="5" height="4" fill="#000"/>
<rect x="402" y="92" width="3" height="2" fill="#fff"/>
<rect x="411" y="90" width="1" height="14" fill="#000"/>
<rect x="409" y="92" width="5" height="11" fill="#000"/>
<rect x="419" y="92" width="1" height="24" fill="#000"/>
<rect x="417" y="101" width="5" height="2" fill="#000"/>
<rect x="427" y="70" width="1" height="34" fill="#000"/>
<rect x="425" y="80" width="5" height="22" fill="#000"/>
<rect x="426" y="81" width="3" height="20" fill="#fff"/>
<rect x="435" y="59" width="1" height="25" fill="#000"/>
<rect x="433" y="68" width="5" height="13" fill="#000"/>
<rect x="434" y="69" width="3" height="11" fill="#fff"/>
<rect x="443" y="50" width="1" height="31" fill="#000"/>
<rect x="441" y="54" width="5" height="15" fill="#000"/>
<rect x="442" y="55" width="3" height="13" fill="#fff"/>
<rect x="451" y="61" width="1" height="8" fill="#000"/>
<rect x="449" y="62" width="5" height="5" fill="#000"/>
<rect x="450" y="63" width="3" height="3" fill="#fff"/>
<rect x="459" y="58" width="1" height="50" fill="#000"/>
<rect x="457" y="62" width="5" height="31" fill="#000"/>
<rect x="467" y="82" width="1" height="18" fill="#000"/>
<rect x="465" y="88" width="5" height="5" fill="#000"/>
<rect x="466" y="89" width="3" height="3" fill="#fff"/>
<rect x="475" y="80" width="1" height="38" fill="#000"/>
<rect x="473" y="88" width="5" height="25" fill="#000"/>
<rect x="483" y="109" width="1" height="36" fill="#000"/>
<rect x="481" y="111" width="5" height="31" fill="#000"/>
<rect x="491" y="139" width="1" height="94" fill="#000"/>
<rect x="489" y="140" width="5" height="83" fill="#000"/>
<rect x="499" y="221" width="1" height="17" fill="#000"/>
<rect x="497" y="224" width="5" height="12" fill="#000"/>
<rect x="498" y="225" width="3" height="10" fill="#fff"/>
<rect x="507" y="192" width="1" height="50" fill="#000"/>
<rect x="505" y="207" width="5" height="16" fill="#000"/>
<rect x="506" y="208" width="3" height="14" fill="#fff"/>
<rect x="515" y="208" width="1" height="40" fill="#000"/>
<rect x="513" y="209" width="5" height="31" fill="#000"/>
<rect x="523" y="204" width="1" height="36" fill="#000"/>
<rect x="521" y="205" width="5" height="35" fill="#000"/>
<rect x="522" y="206" width="3" height="33" fill="#fff"/>
<rect x="531" y="206" width="1" height="31" fill="#000"/>
<rect x="529" y="207" width="5" height="25" fill="#000"/>
<rect x="539" y="227" width="1" height="33" fill="#000"/>
<rect x="537" y="231" width="5" height="18" fill="#000"/>
<rect x="547" y="261" width="1" height="16" fill="#000"/>
<rect x="545" y="267" width="5" height="10" fill="#000"/>
<rect x="546" y="268" width="3" height="8" fill="#fff"/>
<rect x="555" y="262" width="1" height="93" fill="#000"/>
<rect x="553" y="267" width="5" height="35" fill="#000"/>
<rect x="563" y="240" width="1" height="79" fill="#000"/>
<rect x="561" y="281" width="5" height="20" fill="#000"/>
<rect x="562" y="282" width="3" height="18" fill="#fff"/>
<rect x="571" y="256" width="1" height="70" fill="#000"/>
<rect x="569" y="281" width="5" height="39" fill="#000"/>
<rect x="579" y="313" width="1" height="73" fill="#000"/>
<rect x="577" y="318" width="5" height="61" fill="#000"/>
<rect x="587" y="311" width="1" height="77" fill="#000"/>
<rect x="585" y="341" width="5" height="38" fill="#000"/>
<rect x="586" y="342" width="3" height="36" fill="#fff"/>
<rect x="595" y="354" width="1" height="33" fill="#000"/>
<rect x="593" y="367" width="5" height="3" fill="#000"/>
<rect x="594" y="368" width="3" height="1" fill="#fff"/>
<rect x="603" y="354" width="1" height="91" fill="#000"/>
<rect x="601" y="367" width="5" height="44" fill="#000"/>
<rect x="611" y="387" width="1" height="66" fill="#000"/>
<rect x="609" y="410" width="5" height="5" fill="#000"/>
<rect x="619" y="409" width="1" height="155" fill="#000"/>
<rect x="617" y="415" width="5" height="107" fill="#000"/>
<rect x="627" y="428" width="1" height="119" fill="#000"/>
<rect x="625" y="469" width="5" height="52" fill="#000"/>
<rect x="626" y="470" width="3" height="50" fill="#fff"/>
<rect x="635" y="367" width="1" height="113" fill="#000"/>
<rect x="633" y="451" width="5" height="18" fill="#000"/>
<rect x="634" y="452" width="3" height="16" fill="#fff"/>
<rect x="643" y="440" width="1" height="29" fill="#000"/>
<rect x="641" y="461" width="5" height="1" fill="#000"/>
<rect x="651" y="439" width="1" height="44" fill="#000"/>
<rect x="649" y="454" width="5" height="7" fill="#000"/>
<rect x="650" y="455" width="3" height="5" fill="#fff"/>
<rect x="659" y="382" width="1" height="85" fill="#000"/>
<rect x="657" y="393" width="5" height="62" fill="#000"/>
<rect x="658" y="394" width="3" height="60" fill="#fff"/>
<rect x="667" y="334" width="1" height="87" fill="#000"/>
<rect x="665" y="385" width="5" height="9" fill="#000"/>
<rect x="666" y="386" width="3" height="7" fill="#fff"/>
<rect x="675" y="323" width="1" height="80" fill="#000"/>
<rect x="673" y="342" width="5" height="43" fill="#000"/>
<rect x="674" y="343" width="3" height="41" fill="#fff"/>
<rect x="683" y="305" width="1" height="61" fill="#000"/>
<rect x="681" y="306" width="5" height="36" fill="#000"/>
<rect x="682" y="307" width="3" height="34" fill="#fff"/>
<rect x="691" y="321" width="1" height="11" fill="#000"/>
<rect x="689" y="324" width="5" height="8" fill="#000"/>
<rect x="690" y="325" width="3" height="6" fill="#fff"/>
<rect x="699" y="309" width="1" height="41" fill="#000"/>
<rect x="697" y="324" width="5" height="4" fill="#000"/>
<rect x="707" y="304" width="1" height="38" fill="#000"/>
<rect x="705" y="327" width="5" height="8" fill="#000"/>
<rect x="715" y="329" width="1" height="28" fill="#000"/>
<rect x="713" y="334" width="5" height="15" fill="#000"/>
<rect x="723" y="317" width="1" height="39" fill="#000"/>
<rect x="721" y="322" width="5" height="27" fill="#000"/>
<rect x="722" y="323" width="3" height="25" fill="#fff"/>
<rect x="731" y="321" width="1" height="34" fill="#000"/>
<rect x="729" y="323" width="5" height="25" fill="#000"/>
<rect x="739" y="347" width="1" height="6" fill="#000"/>
<rect x="737" y="348" width="5" height="3" fill="#000"/>
<rect x="738" y="349" width="3" height="1" fill="#fff"/>
<rect x="747" y="306" width="1" height="44" fill="#000"/>
<rect x="745" y="332" width="5" height="17" fill="#000"/>
<rect x="746" y="333" width="3" height="15" fill="#fff"/>
<rect x="755" y="295" width="1" height="47" fill="#000"/>
<rect x="753" y="317" width="5" height="16" fill="#000"/>
<rect x="754" y="318" width="3" height="14" fill="#fff"/>
<rect x="763" y="294" width="1" height="33" fill="#000"/>
<rect x="761" y="295" width="5" height="24" fill="#000"/>
<rect x="762" y="296" width="3" height="22" fill="#fff"/>
<rect x="771" y="276" width="1" height="28" fill="#000"/>
<rect x="769" y="294" width="5" height="2" fill="#000"/>
<rect x="779" y="290" width="1" height="7" fill="#000"/>
<rect x="777" y="291" width="5" height="5" fill="#000"/>
<rect x="787" y="291" width="1" height="16" fill="#000"/>
<rect x="785" y="295" width="5" height="6" fill="#000"/>
<rect x="795" y="282" width="1" height="24" fill="#000"/>
<rect x="793" y="289" width="5" height="12" fill="#000"/>
<rect x="794" y="290" width="3" height="10" fill="#fff"/>
<rect x="803" y="288" width="1" height="41" fill="#000"/>
<rect x="801" y="289" width="5" height="13" fill="#000"/>
<rect x="811" y="296" width="1" height="31" fill="#000"/>
<rect x="809" y="300" width="5" height="2" fill="#000"/>
<rect x="819" y="298" width="1" height="24" fill="#000"/>
<rect x="817" y="299" width="5" height="12" fill="#000"/>
<rect x="827" y="307" width="1" height="3" fill="#000"/>
<rect x="825" y="308" width="5" height="1" fill="#000"/>
<rect x="835" y="301" width="1" height="24" fill="#000"/>
<rect x="833" y="308" width="5" height="13" fill="#000"/>
<rect x="843" y="318" width="1" height="53" fill="#000"/>
<rect x="841" y="320" width="5" height="36" fill="#000"/>
<rect x="851" y="336" width="1" height="32" fill="#000"/>
<rect x="849" y="347" width="5" height="8" fill="#000"/>
<rect x="850" y="348" width="3" height="6" fill="#fff"/>
<rect x="859" y="327" width="1" height="32" fill="#000"/>
<rect x="857" y="344" width="5" height="4" fill="#000"/>
<rect x="858" y="345" width="3" height="2" fill="#fff"/>
<rect x="867" y="340" width="1" height="19" fill="#000"/>
<rect x="865" y="343" width="5" height="9" fill="#000"/>
<rect x="875" y="344" width="1" height="5" fill="#000"/>
<rect x="873" y="345" width="5" height="3" fill="#000"/>
<rect x="874" y="346" width="3" height="1" fill="#fff"/>
<rect x="883" y="329" width="1" height="18" fill="#000"/>
<rect x="881" y="337" width="5" height="9" fill="#000"/>
<rect x="882" y="338" width="3" height="7" fill="#fff"/>
<rect x="891" y="330" width="1" height="22" fill="#000"/>
<rect x="889" y="337" width="5" height="14" fill="#000"/>
<rect x="899" y="343" width="1" height="27" fill="#000"/>
<rect x="897" y="345" width="5" height="6" fill="#000"/>
<rect x="898" y="346" width="3" height="4" fill="#fff"/>
<rect x="907" y="283" width="1" height="69" fill="#000"/>
<rect x="905" y="295" width="5" height="51" fill="#000"/>
<rect x="906" y="296" width="3" height="49" fill="#fff"/>
<rect x="915" y="292" width="1" height="43" fill="#000"/>
<rect x="913" y="295" width="5" height="39" fill="#000"/>
<rect x="923" y="339" width="1" height="9" fill="#000"/>
<rect x="921" y="341" width="5" height="5" fill="#000"/>
<rect x="931" y="338" width="1" height="18" fill="#000"/>
<rect x="929" y="345" width="5" height="5" fill="#000"/>
<rect x="939" y="339" width="1" height="20" fill="#000"/>
<rect x="937" y="349" width="5" height="9" fill="#000"/>
<rect x="947" y="357" width="1" height="45" fill="#000"/>
<rect x="945" y="357" width="5" height="39" fill="#000"/>
<rect x="955" y="368" width="1" height="31" fill="#000"/>
<rect x="953" y="377" width="5" height="19" fill="#000"/>
<rect x="954" y="378" width="3" height="17" fill="#fff"/>
<rect x="963" y="351" width="1" height="29" fill="#000"/>
<rect x="961" y="359" width="5" height="19" fill="#000"/>
<rect x="962" y="360" width="3" height="17" fill="#fff"/>
<rect x="971" y="349" width="1" height="8" fill="#000"/>
<rect x="969" y="349" width="5" height="5" fill="#000"/>
<rect x="970" y="350" width="3" height="3" fill="#fff"/>
<rect x="979" y="339" width="1" height="33" fill="#000"/>
<rect x="977" y="349" width="5" height="3" fill="#000"/>
<rect x="987" y="347" width="1" height="40" fill="#000"/>
<rect x="985" y="352" width="5" height="34" fill="#000"/>
<rect x="995" y="369" width="1" height="33" fill="#000"/>
<rect x="993" y="385" width="5" height="12" fill="#000"/>
<rect x="1003" y="384" width="1" height="30" fill="#000"/>
<rect x="1001" y="384" width="5" height="13" fill="#000"/>
<rect x="1002" y="385" width="3" height="11" fill="#fff"/>
<rect x="1011" y="382" width="1" height="36" fill="#000"/>
<rect x="1009" y="384" width="5" height="34" fill="#000"/>
<rect x="1019" y="424" width="1" height="6" fill="#000"/>
<rect x="1017" y="425" width="5" height="4" fill="#000"/>
<rect x="1027" y="386" width="1" height="42" fill="#000"/>
<rect x="1025" y="392" width="5" height="36" fill="#000"/>
<rect x="1026" y="393" width="3" height="34" fill="#fff"/>
<rect x="1035" y="355" width="1" height="44" fill="#000"/>
<rect x="1033" y="364" width="5" height="30" fill="#000"/>
<rect x="1034" y="365" width="3" height="28" fill="#fff"/>
<rect x="1043" y="358" width="1" height="25" fill="#000"/>
<rect x="1041" y="364" width="5" height="13" fill="#000"/>
<rect x="1051" y="369" width="1" height="19" fill="#000"/>
<rect x="1049" y="376" width="5" height="4" fill="#000"/>
<rect x="1059" y="373" width="1" height="28" fill="#000"/>
<rect x="1057" y="378" width="5" height="16" fill="#000"/>
<rect x="1067" y="384" width="1" height="6" fill="#000"/>
<rect x="1065" y="385" width="5" height="3" fill="#000"/>
<rect x="1066" y="386" width="3" height="1" fill="#fff"/>
<rect x="1075" y="382" width="1" height="12" fill="#000"/>
<rect x="1073" y="383" width="5" height="3" fill="#000"/>
<rect x="1074" y="384" width="3" height="1" fill="#fff"/>
<rect x="1083" y="342" width="1" height="41" fill="#000"/>
<rect x="1081" y="354" width="5" height="30" fill="#000"/>
<rect x="1082" y="355" width="3" height="28" fill="#fff"/>
<rect x="1091" y="343" width="1" height="35" fill="#000"/>
<rect x="1089" y="355" width="5" height="9" fill="#000"/>
<rect x="1099" y="346" width="1" height="27" fill="#000"/>
<rect x="1097" y="353" width="5" height="11" fill="#000"/>
<rect x="1098" y="354" width="3" height="9" fill="#fff"/>
<rect x="1107" y="332" width="1" height="41" fill="#000"/>
<rect x="1105" y="347" width="5" height="7" fill="#000"/>
<rect x="1106" y="348" width="3" height="5" fill="#fff"/>
<rect x="1115" y="343" width="1" height="5" fill="#000"/>
<rect x="1113" y="343" width="5" height="2" fill="#000"/>
<rect x="1123" y="306" width="1" height="40" fill="#000"/>
<rect x="1121" y="312" width="5" height="33" fill="#000"/>
<rect x="1122" y="313" width="3" height="31" fill="#fff"/>
<rect x="1131" y="247" width="1" height="65" fill="#000"/>
<rect x="1129" y="247" width="5" height="66" fill="#000"/>
<rect x="1130" y="248" width="3" height="64" fill="#fff"/>
<rect x="1139" y="236" width="1" height="29" fill="#000"/>
<rect x="1137" y="244" width="5" height="5" fill="#000"/>
<rect x="1138" y="245" width="3" height="3" fill="#fff"/>
<rect x="1147" y="225" width="1" height="47" fill="#000"/>
<rect x="1145" y="231" width="5" height="14" fill="#000"/>
<rect x="1146" y="232" width="3" height="12" fill="#fff"/>
<rect x="1155" y="178" width="1" height="62" fill="#000"/>
<rect x="1153" y="200" width="5" height="32" fill="#000"/>
<rect x="1154" y="201" width="3" height="30" fill="#fff"/>
<rect x="1163" y="182" width="1" height="13" fill="#000"/>
<rect x="1161" y="186" width="5" height="8" fill="#000"/>
<rect x="1162" y="187" width="3" height="6" fill="#fff"/>
<rect x="1171" y="186" width="1" height="50" fill="#000"/>
<rect x="1169" y="186" width="5" height="33" fill="#000"/>
<rect x="1179" y="216" width="1" height="49" fill="#000"/>
<rect x="1177" y="220" width="5" height="26" fill="#000"/>
<rect x="1187" y="235" width="1" height="37" fill="#000"/>
<rect x="1185" y="245" width="5" height="26" fill="#000"/>
<rect x="1195" y="259" width="1" height="58" fill="#000"/>
<rect x="1193" y="269" width="5" height="43" fill="#000"/>
<rect x="1203" y="269" width="1" height="55" fill="#000"/>
<rect x="1201" y="311" width="5" height="4" fill="#000"/>
<rect x="1211" y="307" width="1" height="10" fill="#000"/>
<rect x="1209" y="308" width="5" height="6" fill="#000"/>
<rect x="1219" y="275" width="1" height="57" fill="#000"/>
<rect x="1217" y="274" width="5" height="39" fill="#000"/>
<rect x="1218" y="275" width="3" height="37" fill="#fff"/>
<rect x="1227" y="261" width="1" height="41" fill="#000"/>
<rect x="1225" y="273" width="5" height="19" fill="#000"/>
<rect x="1235" y="291" width="1" height="27" fill="#000"/>
<rect x="1233" y="291" width="5" height="26" fill="#000"/>
<rect x="1243" y="310" width="1" height="49" fill="#000"/>
<rect x="1241" y="316" width="5" height="30" fill="#000"/>
<rect x="1251" y="337" width="1" height="33" fill="#000"/>
<rect x="1249" y="344" width="5" height="24" fill="#000"/>
<rect x="1259" y="369" width="1" height="4" fill="#000"/>
<rect x="1257" y="370" width="5" height="2" fill="#000"/>
<rect x="1267" y="326" width="1" height="49" fill="#000"/>
<rect x="1265" y="328" width="5" height="43" fill="#000"/>
<rect x="1266" y="329" width="3" height="41" fill="#fff"/>
<rect x="1275" y="319" width="1" height="35" fill="#000"/>
<rect x="1273" y="328" width="5" height="9" fill="#000"/>
<rect x="1283" y="328" width="1" height="24" fill="#000"/>
<rect x="1281" y="336" width="5" height="12" fill="#000"/>
<rect x="1291" y="328" width="1" height="21" fill="#000"/>
<rect x="1289" y="340" width="5" height="8" fill="#000"/>
<rect x="1290" y="341" width="3" height="6" fill="#fff"/>
<rect x="1299" y="337" width="1" height="31" fill="#000"/>
<rect x="1297" y="341" width="5" height="21" fill="#000"/>
<rect x="1307" y="360" width="1" height="5" fill="#000"/>
<rect x="1305" y="360" width="5" height="3" fill="#000"/>
<rect x="1306" y="361" width="3" height="1" fill="#fff"/>
<rect x="1315" y="351" width="1" height="19" fill="#000"/>
<rect x="1313" y="357" width="5" height="4" fill="#000"/>
<rect x="1314" y="358" width="3" height="2" fill="#fff"/>
<rect x="1323" y="322" width="1" height="46" fill="#000"/>
<rect x="1321" y="323" width="5" height="36" fill="#000"/>
<rect x="1322" y="324" width="3" height="34" fill="#fff"/>
<rect x="1331" y="313" width="1" height="32" fill="#000"/>
<rect x="1329" y="322" width="5" height="3" fill="#000"/>
<rect x="1330" y="323" width="3" height="1" fill="#fff"/>
<rect x="1339" y="302" width="1" height="24" fill="#000"/>
<rect x="1337" y="319" width="5" height="6" fill="#000"/>
<rect x="1338" y="320" width="3" height="4" fill="#fff"/>
<rect x="1347" y="314" width="1" height="7" fill="#000"/>
<rect x="1345" y="316" width="5" height="4" fill="#000"/>
<rect x="1346" y="317" width="3" height="2" fill="#fff"/>
<rect x="1355" y="313" width="1" height="5" fill="#000"/>
<rect x="1353" y="315" width="5" height="2" fill="#000"/>
<rect x="1363" y="302" width="1" height="17" fill="#000"/>
<rect x="1361" y="315" width="5" height="1" fill="#000"/>
<rect x="1371" y="284" width="1" height="33" fill="#000"/>
<rect x="1369" y="297" width="5" height="20" fill="#000"/>
<rect x="1370" y="298" width="3" height="18" fill="#fff"/>
<rect x="1379" y="281" width="1" height="25" fill="#000"/>
<rect x="1377" y="288" width="5" height="10" fill="#000"/>
<rect x="1378" y="289" width="3" height="8" fill="#fff"/>
<rect x="1387" y="272" width="1" height="22" fill="#000"/>
<rect x="1385" y="287" width="5" height="4" fill="#000"/>
<rect x="1395" y="289" width="1" height="24" fill="#000"/>
<rect x="1393" y="290" width="5" height="5" fill="#000"/>
<rect x="1403" y="293" width="1" height="4" fill="#000"/>
<rect x="1401" y="293" width="5" height="3" fill="#000"/>
<rect x="1411" y="282" width="1" height="23" fill="#000"/>
<rect x="1409" y="294" width="5" height="10" fill="#000"/>
<rect x="1419" y="299" width="1" height="21" fill="#000"/>
<rect x="1417" y="299" width="5" height="5" fill="#000"/>
<rect x="1418" y="300" width="3" height="3" fill="#fff"/>
<rect x="1427" y="292" width="1" height="16" fill="#000"/>
<rect x="1425" y="299" width="5" height="5" fill="#000"/>
<rect x="1435" y="290" width="1" height="29" fill="#000"/>
<rect x="1433" y="302" width="5" height="4" fill="#000"/>
<rect x="1434" y="303" width="3" height="2" fill="#fff"/>
</g>
</g>
<g>
<rect x="1311" y="321" width="154" height="6" fill="#00ff00" shape-rendering="crispEdges"/>
<line x1="1319" y1="363.5" x2="1383" y2="280" stroke="#ff0000" stroke-width="3.3"/>
<polygon points="1387.5,274.5 1375,283.5 1384,290.5" fill="#ff0000"/>
<line x1="1387" y1="276" x2="1451" y2="316.5" stroke="#ff0000" stroke-width="3.3"/>
<polygon points="1457.5,321 1449,311.5 1443.5,320.5" fill="#ff0000"/>
<text x="1489" y="323" font-size="21" fill="#00ff00" style="font-family:'Noto Serif CJK SC','Noto Sans CJK SC',serif" textLength="112" lengthAdjust="spacing">多空转折点</text>
</g>
<g>
<rect x="0" y="43" width="219" height="66" fill="#fff"/>
<rect x="0" y="43" width="50" height="25" fill="url(#gb)"/>
<rect x="165" y="43" width="52" height="25" fill="url(#gb)"/>
<rect x="0" y="67" width="107" height="40" fill="url(#gp)"/>
<rect x="109" y="67" width="108" height="40" fill="url(#gp)"/>
<g shape-rendering="crispEdges">
<rect x="0" y="43" width="50" height="1" fill="#1414b4"/>
<rect x="49" y="43" width="1" height="25" fill="#1414b4"/>
<rect x="49" y="67" width="58" height="1" fill="#1414b4"/>
<rect x="165" y="43" width="52" height="1" fill="#1414b4"/>
<rect x="165" y="43" width="1" height="25" fill="#1414b4"/>
<rect x="109" y="67" width="57" height="1" fill="#1414b4"/>
<rect x="216" y="43" width="1" height="64" fill="#1414b4"/>
<rect x="109" y="67" width="1" height="40" fill="#1414b4"/>
<rect x="106" y="67" width="1" height="40" fill="#1414b4"/>
<rect x="0" y="106" width="107" height="1" fill="#00008c"/>
<rect x="109" y="106" width="108" height="1" fill="#00008c"/>
<rect x="2" y="66" width="44" height="1" fill="#10109c"/>
<rect x="2" y="67" width="44" height="1" fill="#7878ff"/>
<rect x="169" y="66" width="44" height="1" fill="#10109c"/>
<rect x="169" y="67" width="44" height="1" fill="#7878ff"/>
</g>
<rect x="52.5" y="43.5" width="110" height="21" fill="#fff" stroke="#a4a4a4" shape-rendering="crispEdges"/>
<rect x="53.5" y="44.5" width="19" height="19" fill="url(#gs)" stroke="#dcdcdc" shape-rendering="crispEdges"/>
<rect x="142.5" y="44.5" width="19" height="19" fill="url(#gs)" stroke="#dcdcdc" shape-rendering="crispEdges"/>
<rect x="73" y="44" width="1" height="20" fill="#a8a8a8" shape-rendering="crispEdges"/>
<rect x="141" y="44" width="1" height="20" fill="#a8a8a8" shape-rendering="crispEdges"/>
<polygon points="60,51.5 66,51.5 63,55" fill="#5060c8"/>
<polygon points="148.5,55 154.5,55 151.5,51.5" fill="#5060c8"/>
<text x="138" y="57.9" font-size="12.2" fill="#000" text-anchor="end" font-weight="normal">1.00</text>
<text x="10.7" y="58.9" font-size="12.3" fill="#fff" text-anchor="start" font-weight="normal" textLength="25.2" lengthAdjust="spacingAndGlyphs">SELL</text>
<text x="178.9" y="58.9" font-size="12.3" fill="#fff" text-anchor="start" font-weight="normal" textLength="23" lengthAdjust="spacingAndGlyphs">BUY</text>
<text x="21.5" y="97.9" font-size="12" fill="#fff" text-anchor="start" font-weight="bold" textLength="20.6" lengthAdjust="spacingAndGlyphs">134</text>
<text x="45.5" y="98.1" font-size="34.8" fill="#fff" text-anchor="start" font-weight="normal" textLength="35" lengthAdjust="spacingAndGlyphs" stroke="url(#gp)" stroke-width="0.5">66</text>
<text x="85" y="81.9" font-size="12" fill="#fff" text-anchor="start" font-weight="bold">2</text>
<text x="131.5" y="97.9" font-size="12" fill="#fff" text-anchor="start" font-weight="bold" textLength="20.6" lengthAdjust="spacingAndGlyphs">134</text>
<text x="156.5" y="98.1" font-size="34.8" fill="#fff" text-anchor="start" font-weight="normal" textLength="35.5" lengthAdjust="spacingAndGlyphs" stroke="url(#gp)" stroke-width="0.5">70</text>
<text x="196.3" y="81.9" font-size="12" fill="#fff" text-anchor="start" font-weight="bold">8</text>
</g>
<polygon points="0,35 5.5,35 2.7,31" fill="#000"/>
<text x="10.5" y="35" font-size="9.5" fill="#000" stroke="#000" stroke-width="0.25" textLength="63" lengthAdjust="spacingAndGlyphs">GBPJPY-,Daily</text>
<text x="79.3" y="35" font-size="9.5" fill="#000" stroke="#000" stroke-width="0.25" textLength="140" lengthAdjust="spacingAndGlyphs">134.569 135.152 134.040 134.662</text>
<g shape-rendering="crispEdges">
<rect x="3" y="608" width="1" height="29" fill="#c0c0c0"/>
<rect x="11" y="613" width="1" height="24" fill="#c0c0c0"/>
<rect x="19" y="618" width="1" height="19" fill="#c0c0c0"/>
<rect x="27" y="623" width="1" height="14" fill="#c0c0c0"/>
<rect x="35" y="628" width="1" height="9" fill="#c0c0c0"/>
<rect x="43" y="631" width="1" height="6" fill="#c0c0c0"/>
<rect x="51" y="632" width="1" height="5" fill="#c0c0c0"/>
<rect x="59" y="631" width="1" height="6" fill="#c0c0c0"/>
<rect x="67" y="630" width="1" height="7" fill="#c0c0c0"/>
<rect x="75" y="631" width="1" height="6" fill="#c0c0c0"/>
<rect x="83" y="628" width="1" height="9" fill="#c0c0c0"/>
<rect x="91" y="628" width="1" height="9" fill="#c0c0c0"/>
<rect x="99" y="629" width="1" height="8" fill="#c0c0c0"/>
<rect x="107" y="632" width="1" height="5" fill="#c0c0c0"/>
<rect x="115" y="636" width="1" height="1" fill="#c0c0c0"/>
<rect x="123" y="636" width="1" height="1" fill="#c0c0c0"/>
<rect x="131" y="636" width="1" height="3" fill="#c0c0c0"/>
<rect x="139" y="636" width="1" height="2" fill="#c0c0c0"/>
<rect x="147" y="636" width="1" height="1" fill="#c0c0c0"/>
<rect x="155" y="636" width="1" height="1" fill="#c0c0c0"/>
<rect x="163" y="636" width="1" height="1" fill="#c0c0c0"/>
<rect x="171" y="635" width="1" height="2" fill="#c0c0c0"/>
<rect x="179" y="634" width="1" height="3" fill="#c0c0c0"/>
<rect x="187" y="634" width="1" height="3" fill="#c0c0c0"/>
<rect x="195" y="631" width="1" height="6" fill="#c0c0c0"/>
<rect x="203" y="630" width="1" height="7" fill="#c0c0c0"/>
<rect x="211" y="630" width="1" height="7" fill="#c0c0c0"/>
<rect x="219" y="631" width="1" height="6" fill="#c0c0c0"/>
<rect x="227" y="630" width="1" height="7" fill="#c0c0c0"/>
<rect x="235" y="630" width="1" height="7" fill="#c0c0c0"/>
<rect x="243" y="628" width="1" height="9" fill="#c0c0c0"/>
<rect x="251" y="630" width="1" height="7" fill="#c0c0c0"/>
<rect x="259" y="634" width="1" height="3" fill="#c0c0c0"/>
<rect x="267" y="636" width="1" height="1" fill="#c0c0c0"/>
<rect x="275" y="636" width="1" height="1" fill="#c0c0c0"/>
<rect x="283" y="636" width="1" height="3" fill="#c0c0c0"/>
<rect x="291" y="636" width="1" height="5" fill="#c0c0c0"/>
<rect x="299" y="636" width="1" height="4" fill="#c0c0c0"/>
<rect x="307" y="636" width="1" height="4" fill="#c0c0c0"/>
<rect x="315" y="636" width="1" height="7" fill="#c0c0c0"/>
<rect x="323" y="636" width="1" height="6" fill="#c0c0c0"/>
<rect x="331" y="636" width="1" height="5" fill="#c0c0c0"/>
<rect x="339" y="636" width="1" height="5" fill="#c0c0c0"/>
<rect x="347" y="636" width="1" height="7" fill="#c0c0c0"/>
<rect x="355" y="636" width="1" height="9" fill="#c0c0c0"/>
<rect x="363" y="636" width="1" height="9" fill="#c0c0c0"/>
<rect x="371" y="636" width="1" height="9" fill="#c0c0c0"/>
<rect x="379" y="636" width="1" height="9" fill="#c0c0c0"/>
<rect x="387" y="636" width="1" height="5" fill="#c0c0c0"/>
<rect x="395" y="636" width="1" height="3" fill="#c0c0c0"/>
<rect x="403" y="636" width="1" height="1" fill="#c0c0c0"/>
<rect x="411" y="636" width="1" height="1" fill="#c0c0c0"/>
<rect x="419" y="636" width="1" height="1" fill="#c0c0c0"/>
<rect x="427" y="633" width="1" height="4" fill="#c0c0c0"/>
<rect x="435" y="630" width="1" height="7" fill="#c0c0c0"/>
<rect x="443" y="627" width="1" height="10" fill="#c0c0c0"/>
<rect x="451" y="625" width="1" height="12" fill="#c0c0c0"/>
<rect x="459" y="626" width="1" height="11" fill="#c0c0c0"/>
<rect x="467" y="627" width="1" height="10" fill="#c0c0c0"/>
<rect x="475" y="630" width="1" height="7" fill="#c0c0c0"/>
<rect x="483" y="635" width="1" height="2" fill="#c0c0c0"/>
<rect x="491" y="636" width="1" height="12" fill="#c0c0c0"/>
<rect x="499" y="636" width="1" height="21" fill="#c0c0c0"/>
<rect x="507" y="636" width="1" height="27" fill="#c0c0c0"/>
<rect x="515" y="636" width="1" height="34" fill="#c0c0c0"/>
<rect x="523" y="636" width="1" height="36" fill="#c0c0c0"/>
<rect x="531" y="636" width="1" height="40" fill="#c0c0c0"/>
<rect x="539" y="636" width="1" height="44" fill="#c0c0c0"/>
<rect x="547" y="636" width="1" height="48" fill="#c0c0c0"/>
<rect x="555" y="636" width="1" height="55" fill="#c0c0c0"/>
<rect x="563" y="636" width="1" height="57" fill="#c0c0c0"/>
<rect x="571" y="636" width="1" height="62" fill="#c0c0c0"/>
<rect x="579" y="636" width="1" height="71" fill="#c0c0c0"/>
<rect x="587" y="636" width="1" height="74" fill="#c0c0c0"/>
<rect x="595" y="636" width="1" height="77" fill="#c0c0c0"/>
<rect x="603" y="636" width="1" height="84" fill="#c0c0c0"/>
<rect x="611" y="636" width="1" height="87" fill="#c0c0c0"/>
<rect x="619" y="636" width="1" height="101" fill="#c0c0c0"/>
<rect x="627" y="636" width="1" height="105" fill="#c0c0c0"/>
<rect x="635" y="636" width="1" height="105" fill="#c0c0c0"/>
<rect x="643" y="636" width="1" height="105" fill="#c0c0c0"/>
<rect x="651" y="636" width="1" height="103" fill="#c0c0c0"/>
<rect x="659" y="636" width="1" height="94" fill="#c0c0c0"/>
<rect x="667" y="636" width="1" height="85" fill="#c0c0c0"/>
<rect x="675" y="636" width="1" height="74" fill="#c0c0c0"/>
<rect x="683" y="636" width="1" height="60" fill="#c0c0c0"/>
<rect x="691" y="636" width="1" height="50" fill="#c0c0c0"/>
<rect x="699" y="636" width="1" height="43" fill="#c0c0c0"/>
<rect x="707" y="636" width="1" height="37" fill="#c0c0c0"/>
<rect x="715" y="636" width="1" height="33" fill="#c0c0c0"/>
<rect x="723" y="636" width="1" height="27" fill="#c0c0c0"/>
<rect x="731" y="636" width="1" height="25" fill="#c0c0c0"/>
<rect x="739" y="636" width="1" height="23" fill="#c0c0c0"/>
<rect x="747" y="636" width="1" height="19" fill="#c0c0c0"/>
<rect x="755" y="636" width="1" height="15" fill="#c0c0c0"/>
<rect x="763" y="636" width="1" height="9" fill="#c0c0c0"/>
<rect x="771" y="636" width="1" height="5" fill="#c0c0c0"/>
<rect x="779" y="636" width="1" height="1" fill="#c0c0c0"/>
<rect x="787" y="635" width="1" height="2" fill="#c0c0c0"/>
<rect x="795" y="632" width="1" height="5" fill="#c0c0c0"/>
<rect x="803" y="631" width="1" height="6" fill="#c0c0c0"/>
<rect x="811" y="630" width="1" height="7" fill="#c0c0c0"/>
<rect x="819" y="631" width="1" height="6" fill="#c0c0c0"/>
<rect x="827" y="632" width="1" height="5" fill="#c0c0c0"/>
<rect x="835" y="633" width="1" height="4" fill="#c0c0c0"/>
<rect x="843" y="636" width="1" height="1" fill="#c0c0c0"/>
<rect x="851" y="636" width="1" height="3" fill="#c0c0c0"/>
<rect x="859" y="636" width="1" height="5" fill="#c0c0c0"/>
<rect x="867" y="636" width="1" height="7" fill="#c0c0c0"/>
<rect x="875" y="636" width="1" height="7" fill="#c0c0c0"/>
<rect x="883" y="636" width="1" height="7" fill="#c0c0c0"/>
<rect x="891" y="636" width="1" height="9" fill="#c0c0c0"/>
<rect x="899" y="636" width="1" height="9" fill="#c0c0c0"/>
<rect x="907" y="636" width="1" height="5" fill="#c0c0c0"/>
<rect x="915" y="636" width="1" height="5" fill="#c0c0c0"/>
<rect x="923" y="636" width="1" height="6" fill="#c0c0c0"/>
<rect x="931" y="636" width="1" height="6" fill="#c0c0c0"/>
<rect x="939" y="636" width="1" height="7" fill="#c0c0c0"/>
<rect x="947" y="636" width="1" height="14" fill="#c0c0c0"/>
<rect x="955" y="636" width="1" height="15" fill="#c0c0c0"/>
<rect x="963" y="636" width="1" height="15" fill="#c0c0c0"/>
<rect x="971" y="636" width="1" height="14" fill="#c0c0c0"/>
<rect x="979" y="636" width="1" height="13" fill="#c0c0c0"/>
<rect x="987" y="636" width="1" height="14" fill="#c0c0c0"/>
<rect x="995" y="636" width="1" height="17" fill="#c0c0c0"/>
<rect x="1003" y="636" width="1" height="19" fill="#c0c0c0"/>
<rect x="1011" y="636" width="1" height="22" fill="#c0c0c0"/>
<rect x="1019" y="636" width="1" height="25" fill="#c0c0c0"/>
<rect x="1027" y="636" width="1" height="25" fill="#c0c0c0"/>
<rect x="1035" y="636" width="1" height="21" fill="#c0c0c0"/>
<rect x="1043" y="636" width="1" height="19" fill="#c0c0c0"/>
<rect x="1051" y="636" width="1" height="18" fill="#c0c0c0"/>
<rect x="1059" y="636" width="1" height="18" fill="#c0c0c0"/>
<rect x="1067" y="636" width="1" height="17" fill="#c0c0c0"/>
<rect x="1075" y="636" width="1" height="15" fill="#c0c0c0"/>
<rect x="1083" y="636" width="1" height="12" fill="#c0c0c0"/>
<rect x="1091" y="636" width="1" height="9" fill="#c0c0c0"/>
<rect x="1099" y="636" width="1" height="7" fill="#c0c0c0"/>
<rect x="1107" y="636" width="1" height="4" fill="#c0c0c0"/>
<rect x="1115" y="636" width="1" height="1" fill="#c0c0c0"/>
<rect x="1123" y="632" width="1" height="5" fill="#c0c0c0"/>
<rect x="1131" y="622" width="1" height="15" fill="#c0c0c0"/>
<rect x="1139" y="614" width="1" height="23" fill="#c0c0c0"/>
<rect x="1147" y="606" width="1" height="31" fill="#c0c0c0"/>
<rect x="1155" y="598" width="1" height="39" fill="#c0c0c0"/>
<rect x="1163" y="590" width="1" height="47" fill="#c0c0c0"/>
<rect x="1171" y="588" width="1" height="49" fill="#c0c0c0"/>
<rect x="1179" y="590" width="1" height="47" fill="#c0c0c0"/>
<rect x="1187" y="594" width="1" height="43" fill="#c0c0c0"/>
<rect x="1195" y="601" width="1" height="36" fill="#c0c0c0"/>
<rect x="1203" y="608" width="1" height="29" fill="#c0c0c0"/>
<rect x="1211" y="614" width="1" height="23" fill="#c0c0c0"/>
<rect x="1219" y="614" width="1" height="23" fill="#c0c0c0"/>
<rect x="1227" y="617" width="1" height="20" fill="#c0c0c0"/>
<rect x="1235" y="621" width="1" height="16" fill="#c0c0c0"/>
<rect x="1243" y="628" width="1" height="9" fill="#c0c0c0"/>
<rect x="1251" y="636" width="1" height="1" fill="#c0c0c0"/>
<rect x="1259" y="636" width="1" height="5" fill="#c0c0c0"/>
<rect x="1267" y="636" width="1" height="6" fill="#c0c0c0"/>
<rect x="1275" y="636" width="1" height="8" fill="#c0c0c0"/>
<rect x="1283" y="636" width="1" height="10" fill="#c0c0c0"/>
<rect x="1291" y="636" width="1" height="10" fill="#c0c0c0"/>
<rect x="1299" y="636" width="1" height="13" fill="#c0c0c0"/>
<rect x="1307" y="636" width="1" height="15" fill="#c0c0c0"/>
<rect x="1315" y="636" width="1" height="15" fill="#c0c0c0"/>
<rect x="1323" y="636" width="1" height="11" fill="#c0c0c0"/>
<rect x="1331" y="636" width="1" height="11" fill="#c0c0c0"/>
<rect x="1339" y="636" width="1" height="8" fill="#c0c0c0"/>
<rect x="1347" y="636" width="1" height="6" fill="#c0c0c0"/>
<rect x="1355" y="636" width="1" height="4" fill="#c0c0c0"/>
<rect x="1363" y="636" width="1" height="2" fill="#c0c0c0"/>
<rect x="1371" y="636" width="1" height="1" fill="#c0c0c0"/>
<rect x="1379" y="633" width="1" height="4" fill="#c0c0c0"/>
<rect x="1387" y="630" width="1" height="7" fill="#c0c0c0"/>
<rect x="1395" y="629" width="1" height="8" fill="#c0c0c0"/>
<rect x="1403" y="628" width="1" height="9" fill="#c0c0c0"/>
<rect x="1411" y="628" width="1" height="9" fill="#c0c0c0"/>
<rect x="1419" y="628" width="1" height="9" fill="#c0c0c0"/>
<rect x="1427" y="629" width="1" height="8" fill="#c0c0c0"/>
<rect x="1435" y="629" width="1" height="8" fill="#c0c0c0"/>
<path d="M1207 598.5h3M1213 598.5h3M1219 598.5h1M1196 599.5h2M1201 599.5h3M1220 599.5h2M1 600.5h3M7 600.5h3M13 600.5h3M1195 600.5h1M1225 600.5h1M19 601.5h3M1191 601.5h1M1226 601.5h2M1189 602.5h2M25 603.5h2M1231 603.5h2M27 604.5h1M1185 604.5h1M1233 604.5h1M1183 605.5h2M31 606.5h3M1237 606.5h2M1239 607.5h1M37 608.5h1M1179 608.5h1M38 609.5h2M1177 609.5h2M1243 609.5h2M1245 610.5h1M43 611.5h1M44 612.5h2M1172 612.5h2M1249 612.5h1M1171 613.5h1M1250 613.5h2M49 614.5h1M50 615.5h1M51 616.5h1M1166 616.5h2M1255 616.5h1M1165 617.5h1M1256 617.5h2M55 618.5h2M57 619.5h1M1160 620.5h2M1261 620.5h2M61 621.5h3M1159 621.5h1M1263 621.5h1M67 622.5h1M68 623.5h2M1267 623.5h2M73 624.5h2M1155 624.5h1M1269 624.5h1M75 625.5h1M1154 625.5h1M79 626.5h3M1153 626.5h1M1273 626.5h2M85 627.5h3M1275 627.5h1M91 628.5h3M1279 628.5h1M97 629.5h3M103 629.5h3M109 629.5h3M249 629.5h1M253 629.5h3M259 629.5h3M265 629.5h2M471 629.5h1M475 629.5h3M481 629.5h3M487 629.5h2M1149 629.5h1M1280 629.5h2M1430 629.5h2M1435 629.5h1M115 630.5h3M121 630.5h3M127 630.5h2M231 630.5h1M235 630.5h3M241 630.5h3M247 630.5h2M267 630.5h1M271 630.5h3M277 630.5h1M465 630.5h1M469 630.5h2M489 630.5h1M1147 630.5h2M1423 630.5h3M1429 630.5h1M129 631.5h1M133 631.5h3M219 631.5h1M223 631.5h3M229 631.5h2M278 631.5h2M283 631.5h1M459 631.5h1M463 631.5h2M493 631.5h3M1285 631.5h2M1419 631.5h1M139 632.5h3M145 632.5h1M206 632.5h2M211 632.5h3M217 632.5h2M284 632.5h2M289 632.5h2M453 632.5h1M457 632.5h2M836 632.5h2M841 632.5h3M847 632.5h2M1287 632.5h1M1417 632.5h2M146 633.5h2M151 633.5h2M194 633.5h2M199 633.5h3M205 633.5h1M291 633.5h1M295 633.5h2M451 633.5h2M499 633.5h2M829 633.5h3M835 633.5h1M849 633.5h1M853 633.5h3M1143 633.5h1M1411 633.5h3M153 634.5h1M157 634.5h2M175 634.5h3M181 634.5h3M187 634.5h3M193 634.5h1M297 634.5h1M301 634.5h2M445 634.5h3M501 634.5h1M823 634.5h3M859 634.5h3M865 634.5h3M1142 634.5h1M1291 634.5h2M1407 634.5h1M159 635.5h1M163 635.5h3M169 635.5h3M303 635.5h1M307 635.5h2M440 635.5h2M871 635.5h3M877 635.5h2M1141 635.5h1M1293 635.5h1M1405 635.5h2M309 636.5h1M313 636.5h2M439 636.5h1M505 636.5h2M817 636.5h3M879 636.5h1M883 636.5h3M1399 636.5h3M315 637.5h1M319 637.5h2M433 637.5h3M507 637.5h1M889 637.5h1M1297 637.5h2M1393 637.5h3M321 638.5h1M325 638.5h3M428 638.5h2M811 638.5h3M890 638.5h2M1136 638.5h2M1299 638.5h1M1388 638.5h2M331 639.5h3M427 639.5h1M511 639.5h2M895 639.5h3M1135 639.5h1M1387 639.5h1M337 640.5h3M343 640.5h3M417 640.5h1M421 640.5h3M513 640.5h1M806 640.5h2M901 640.5h3M1131 640.5h1M1303 640.5h2M1381 640.5h3M349 641.5h3M355 641.5h1M409 641.5h3M415 641.5h2M805 641.5h1M907 641.5h3M913 641.5h2M1129 641.5h2M1305 641.5h1M1375 641.5h3M356 642.5h2M361 642.5h3M367 642.5h1M397 642.5h3M403 642.5h3M915 642.5h1M919 642.5h3M925 642.5h3M931 642.5h3M1370 642.5h2M368 643.5h2M373 643.5h3M379 643.5h3M385 643.5h3M391 643.5h3M517 643.5h1M799 643.5h3M937 643.5h3M943 643.5h3M949 643.5h3M955 643.5h1M1124 643.5h2M1309 643.5h3M1369 643.5h1M518 644.5h2M956 644.5h2M961 644.5h3M967 644.5h1M1123 644.5h1M1315 644.5h2M1363 644.5h3M795 645.5h1M968 645.5h2M973 645.5h3M1117 645.5h3M1317 645.5h1M1358 645.5h2M793 646.5h2M979 646.5h3M985 646.5h1M1113 646.5h1M1321 646.5h3M1327 646.5h3M1333 646.5h3M1339 646.5h3M1345 646.5h3M1351 646.5h3M1357 646.5h1M523 647.5h1M986 647.5h2M991 647.5h1M1111 647.5h2M524 648.5h1M788 648.5h2M992 648.5h2M1106 648.5h2M525 649.5h1M787 649.5h1M997 649.5h2M1105 649.5h1M999 650.5h1M1003 650.5h1M1099 650.5h3M529 651.5h1M782 651.5h2M1004 651.5h2M1009 651.5h1M1094 651.5h2M530 652.5h2M781 652.5h1M1010 652.5h2M1015 652.5h2M1093 652.5h1M777 653.5h1M1017 653.5h1M1021 653.5h3M1027 653.5h3M1087 653.5h3M775 654.5h2M1033 654.5h3M1039 654.5h3M1045 654.5h1M1081 654.5h3M535 655.5h2M1046 655.5h2M1051 655.5h3M1057 655.5h1M1069 655.5h3M1075 655.5h3M537 656.5h1M771 656.5h1M1058 656.5h2M1063 656.5h3M769 657.5h2M541 659.5h2M765 659.5h1M543 660.5h1M763 660.5h2M547 663.5h1M758 663.5h2M548 664.5h2M757 664.5h1M753 666.5h1M553 667.5h1M751 667.5h2M554 668.5h1M555 669.5h1M747 669.5h1M745 670.5h2M559 672.5h1M560 673.5h2M741 674.5h1M740 675.5h1M565 676.5h1M739 676.5h1M566 677.5h2M735 679.5h1M571 680.5h1M734 680.5h1M572 681.5h2M733 681.5h1M577 683.5h1M578 684.5h2M729 685.5h1M583 686.5h1M728 686.5h1M584 687.5h2M727 687.5h1M589 689.5h1M590 690.5h1M591 691.5h1M723 691.5h1M722 692.5h1M595 693.5h1M721 693.5h1M596 694.5h1M597 695.5h1M601 697.5h1M717 697.5h1M602 698.5h1M716 698.5h1M603 699.5h1M715 699.5h1M607 701.5h1M608 702.5h1M609 703.5h1M711 703.5h1M710 704.5h1M613 705.5h1M709 705.5h1M614 706.5h1M615 707.5h1M619 709.5h1M705 709.5h1M620 710.5h2M704 710.5h1M703 711.5h1M625 713.5h1M626 714.5h2M699 715.5h1M698 716.5h1M631 717.5h1M697 717.5h1M632 718.5h1M633 719.5h1M692 721.5h2M637 722.5h2M691 722.5h1M639 723.5h1M643 725.5h2M686 725.5h2M645 726.5h1M685 726.5h1M649 728.5h3M681 728.5h1M679 729.5h2M655 730.5h3M673 730.5h3M661 731.5h3M669 731.5h1M667 732.5h2" fill="none" stroke="#ff0000" stroke-width="1"/>
</g>
<text x="0" y="590.5" font-size="9.5" fill="#000" stroke="#000" stroke-width="0.25" textLength="127" lengthAdjust="spacingAndGlyphs">MACD(12,26,9) 0.2625 0.2362</text>
<g shape-rendering="crispEdges">
<line x1="0" y1="786.5" x2="1686" y2="786.5" stroke="#c0c0c0" stroke-width="1" stroke-dasharray="3,3" stroke-dashoffset="4"/>
<line x1="0" y1="837.5" x2="1686" y2="837.5" stroke="#c0c0c0" stroke-width="1" stroke-dasharray="3,3" stroke-dashoffset="4"/>
<line x1="0" y1="898.5" x2="1686" y2="898.5" stroke="#c0c0c0" stroke-width="1" stroke-dasharray="3,3" stroke-dashoffset="4"/>
<path d="M55.5 833v2M77.5 831v2M81.5 826v2M92.5 824v2M93.5 826v2M94.5 828v2M96.5 831v2M97.5 833v2M98.5 835v2M100.5 838v2M101.5 840v2M102.5 842v2M104.5 845v2M105.5 847v2M106.5 849v2M116.5 849v2M117.5 847v2M118.5 845v2M119.5 843v2M120.5 841v2M121.5 839v2M122.5 837v2M123.5 835v2M125.5 837v2M129.5 842v2M132.5 843v2M135.5 839v2M138.5 835v2M199.5 827v2M231.5 826v2M244.5 829v2M246.5 832v2M248.5 835v2M250.5 838v2M307.5 837v2M308.5 839v2M309.5 841v2M310.5 843v3M311.5 846v2M312.5 848v3M313.5 851v2M314.5 853v2M315.5 855v2M316.5 853v2M317.5 851v2M318.5 849v2M319.5 846v3M320.5 844v2M321.5 842v2M322.5 840v2M323.5 838v2M383.5 833v2M423.5 827v2M451.5 817v2M452.5 819v2M453.5 821v2M454.5 823v2M455.5 825v2M456.5 827v2M457.5 829v2M458.5 831v2M459.5 833v2M468.5 833v2M470.5 836v2M472.5 839v2M474.5 842v2M477.5 846v2M481.5 851v2M483.5 854v2M484.5 856v3M485.5 859v2M486.5 861v3M487.5 864v3M488.5 867v3M489.5 870v2M490.5 872v3M491.5 875v2M516.5 874v2M517.5 872v2M518.5 870v2M519.5 868v2M520.5 866v2M521.5 864v2M522.5 862v2M523.5 860v2M559.5 874v2M580.5 883v2M581.5 881v2M582.5 879v2M584.5 876v2M585.5 874v2M586.5 872v2M613.5 883v2M617.5 888v2M619.5 890v2M620.5 888v2M621.5 886v2M622.5 884v2M623.5 882v2M624.5 880v2M625.5 878v2M626.5 876v2M627.5 874v2M651.5 869v2M652.5 867v2M653.5 865v2M654.5 863v2M655.5 860v3M656.5 858v2M657.5 856v2M658.5 854v2M659.5 852v2M669.5 848v2M673.5 843v2M836.5 841v2M838.5 844v2M840.5 847v2M842.5 850v2M899.5 845v2M900.5 842v3M901.5 840v2M902.5 837v3M903.5 834v3M904.5 831v3M905.5 829v2M906.5 826v3M907.5 824v2M908.5 825v2M909.5 827v2M910.5 829v2M911.5 831v2M912.5 833v2M913.5 835v2M914.5 837v2M915.5 839v2M940.5 849v2M941.5 851v2M943.5 854v2M945.5 857v2M946.5 859v2M951.5 856v2M981.5 844v2M985.5 849v2M1005.5 853v2M1009.5 858v2M1020.5 862v2M1021.5 860v2M1022.5 858v2M1023.5 856v2M1024.5 854v2M1025.5 852v2M1026.5 850v2M1027.5 848v2M1029.5 845v2M1033.5 840v2M1076.5 841v2M1079.5 837v2M1082.5 833v2M1116.5 826v2M1119.5 822v2M1122.5 818v2M1123.5 816v2M1124.5 814v2M1125.5 812v2M1126.5 810v2M1127.5 808v2M1128.5 806v2M1129.5 804v2M1130.5 802v2M1131.5 800v2M1163.5 789v2M1164.5 791v2M1165.5 793v2M1166.5 795v2M1167.5 797v3M1168.5 800v2M1169.5 802v2M1170.5 804v2M1171.5 806v2M1173.5 809v2M1177.5 814v2M1181.5 819v2M1185.5 824v2M1188.5 828v2M1189.5 830v2M1191.5 833v2M1193.5 836v2M1194.5 838v2M1212.5 838v2M1214.5 835v2M1216.5 832v2M1218.5 829v2M1260.5 854v2M1261.5 852v2M1262.5 850v2M1263.5 848v2M1264.5 846v2M1265.5 844v2M1266.5 842v2M1316.5 847v2M1317.5 845v2M1319.5 842v2M1321.5 839v2M1322.5 837v2M1367.5 828v2M1161 789.5h2M1157 790.5h4M1155 791.5h2M1153 792.5h2M1152 793.5h1M1151 794.5h1M1149 795.5h2M1148 796.5h1M1146 797.5h2M1143 798.5h3M1141 799.5h2M1132 800.5h9M1172 808.5h1M1174 811.5h1M443 812.5h1M1175 812.5h1M441 813.5h2M444 813.5h2M1176 813.5h1M440 814.5h1M446 814.5h1M439 815.5h1M447 815.5h2M437 816.5h2M449 816.5h2M1178 816.5h1M436 817.5h1M1179 817.5h1M435 818.5h1M1180 818.5h1M433 819.5h2M431 820.5h2M1121 820.5h1M1378 820.5h3M430 821.5h1M1120 821.5h1M1182 821.5h1M1376 821.5h2M1381 821.5h4M235 822.5h1M428 822.5h2M1183 822.5h1M1374 822.5h2M1385 822.5h4M87 823.5h5M195 823.5h1M234 823.5h1M236 823.5h1M427 823.5h1M1184 823.5h1M1372 823.5h2M1389 823.5h4M83 824.5h4M194 824.5h1M196 824.5h1M233 824.5h1M237 824.5h2M426 824.5h1M1118 824.5h1M1371 824.5h1M1393 824.5h6M82 825.5h1M193 825.5h1M197 825.5h1M232 825.5h1M239 825.5h1M425 825.5h1M1117 825.5h1M1370 825.5h1M1399 825.5h5M192 826.5h1M198 826.5h1M240 826.5h1M424 826.5h1M794 826.5h2M1186 826.5h1M1369 826.5h1M1404 826.5h1M191 827.5h1M241 827.5h2M792 827.5h2M796 827.5h2M1187 827.5h1M1368 827.5h1M1405 827.5h2M80 828.5h1M190 828.5h1M230 828.5h1M243 828.5h1M401 828.5h3M763 828.5h18M790 828.5h2M798 828.5h1M1111 828.5h5M1219 828.5h1M1407 828.5h1M59 829.5h9M79 829.5h1M189 829.5h1M200 829.5h1M229 829.5h1M387 829.5h4M397 829.5h4M404 829.5h1M422 829.5h1M761 829.5h2M781 829.5h4M788 829.5h2M799 829.5h2M1106 829.5h5M1220 829.5h1M1408 829.5h1M1417 829.5h4M58 830.5h1M68 830.5h2M78 830.5h1M95 830.5h1M188 830.5h1M201 830.5h1M228 830.5h1M386 830.5h1M391 830.5h6M405 830.5h2M421 830.5h1M759 830.5h2M785 830.5h3M801 830.5h2M1103 830.5h3M1221 830.5h2M1366 830.5h1M1409 830.5h2M1413 830.5h4M1421 830.5h2M57 831.5h1M70 831.5h1M183 831.5h5M202 831.5h1M225 831.5h3M245 831.5h1M385 831.5h1M407 831.5h1M420 831.5h1M758 831.5h1M803 831.5h9M1101 831.5h2M1217 831.5h1M1223 831.5h1M1365 831.5h1M1411 831.5h2M1423 831.5h3M1431 831.5h5M56 832.5h1M71 832.5h2M177 832.5h6M203 832.5h12M221 832.5h4M384 832.5h1M408 832.5h1M417 832.5h3M465 832.5h3M756 832.5h2M812 832.5h2M1083 832.5h2M1098 832.5h3M1190 832.5h1M1224 832.5h1M1351 832.5h8M1364 832.5h1M1426 832.5h5M73 833.5h2M76 833.5h1M143 833.5h14M173 833.5h4M215 833.5h6M409 833.5h2M413 833.5h4M461 833.5h4M683 833.5h2M755 833.5h1M814 833.5h2M1085 833.5h2M1095 833.5h3M1225 833.5h2M1343 833.5h8M1359 833.5h5M75 834.5h1M139 834.5h4M157 834.5h4M167 834.5h6M247 834.5h1M299 834.5h2M411 834.5h2M460 834.5h1M682 834.5h1M685 834.5h2M753 834.5h2M816 834.5h2M823 834.5h5M1087 834.5h3M1093 834.5h2M1215 834.5h1M1227 834.5h1M1337 834.5h6M54 835.5h1M161 835.5h6M298 835.5h1M301 835.5h2M382 835.5h1M469 835.5h1M681 835.5h1M687 835.5h3M751 835.5h2M818 835.5h5M828 835.5h1M1081 835.5h1M1090 835.5h3M1192 835.5h1M1228 835.5h1M1333 835.5h4M53 836.5h1M124 836.5h1M297 836.5h1M303 836.5h3M381 836.5h1M680 836.5h1M690 836.5h3M723 836.5h1M750 836.5h1M829 836.5h2M1080 836.5h1M1229 836.5h1M1323 836.5h10M0 837.5h1M52 837.5h1M99 837.5h1M137 837.5h1M249 837.5h1M296 837.5h1M306 837.5h1M327 837.5h5M380 837.5h1M679 837.5h1M693 837.5h4M722 837.5h1M724 837.5h1M748 837.5h2M831 837.5h1M1213 837.5h1M1230 837.5h1M1 838.5h1M51 838.5h1M136 838.5h1M295 838.5h1M324 838.5h3M332 838.5h2M375 838.5h5M471 838.5h1M678 838.5h1M697 838.5h6M721 838.5h1M725 838.5h2M746 838.5h2M832 838.5h1M1035 838.5h1M1231 838.5h1M2 839.5h1M7 839.5h8M49 839.5h2M126 839.5h1M294 839.5h1M334 839.5h1M371 839.5h4M677 839.5h1M703 839.5h5M719 839.5h2M727 839.5h1M744 839.5h2M833 839.5h2M1034 839.5h1M1036 839.5h2M1078 839.5h1M1232 839.5h1M3 840.5h4M15 840.5h5M48 840.5h1M127 840.5h1M251 840.5h1M293 840.5h1M335 840.5h2M369 840.5h2M676 840.5h1M708 840.5h2M718 840.5h1M728 840.5h1M742 840.5h2M835 840.5h1M1038 840.5h2M1077 840.5h1M1195 840.5h4M1207 840.5h5M1233 840.5h1M20 841.5h1M47 841.5h1M128 841.5h1M134 841.5h1M252 841.5h1M292 841.5h1M337 841.5h2M368 841.5h1M473 841.5h1M675 841.5h1M710 841.5h2M717 841.5h1M729 841.5h2M740 841.5h2M916 841.5h2M970 841.5h5M1040 841.5h2M1199 841.5h8M1234 841.5h1M1267 841.5h2M1320 841.5h1M21 842.5h2M45 842.5h2M133 842.5h1M253 842.5h1M291 842.5h1M339 842.5h1M367 842.5h1M674 842.5h1M712 842.5h2M716 842.5h1M731 842.5h9M918 842.5h2M967 842.5h3M975 842.5h5M1032 842.5h1M1042 842.5h5M1235 842.5h1M1269 842.5h2M23 843.5h1M44 843.5h1M254 843.5h1M290 843.5h1M340 843.5h1M365 843.5h2M714 843.5h2M837 843.5h1M882 843.5h2M920 843.5h2M965 843.5h2M980 843.5h1M1031 843.5h1M1047 843.5h5M1071 843.5h5M1236 843.5h1M1271 843.5h3M24 844.5h1M43 844.5h1M103 844.5h1M130 844.5h1M255 844.5h1M289 844.5h1M341 844.5h1M364 844.5h1M475 844.5h1M879 844.5h3M884 844.5h2M922 844.5h3M963 844.5h2M1030 844.5h1M1052 844.5h2M1066 844.5h5M1237 844.5h1M1274 844.5h3M1290 844.5h2M1318 844.5h1M25 845.5h2M41 845.5h2M131 845.5h1M256 845.5h1M288 845.5h1M342 845.5h1M363 845.5h1M476 845.5h1M672 845.5h1M877 845.5h2M886 845.5h1M925 845.5h4M962 845.5h1M1054 845.5h1M1064 845.5h2M1238 845.5h1M1277 845.5h2M1287 845.5h3M1292 845.5h1M27 846.5h2M39 846.5h2M257 846.5h1M265 846.5h4M287 846.5h1M343 846.5h1M362 846.5h1M671 846.5h1M839 846.5h1M874 846.5h3M887 846.5h2M897 846.5h2M929 846.5h4M961 846.5h1M982 846.5h1M1055 846.5h2M1062 846.5h2M1239 846.5h1M1279 846.5h3M1285 846.5h2M1293 846.5h1M29 847.5h2M38 847.5h1M258 847.5h1M261 847.5h4M269 847.5h4M286 847.5h1M344 847.5h1M361 847.5h1M670 847.5h1M855 847.5h6M872 847.5h2M889 847.5h2M893 847.5h4M933 847.5h4M960 847.5h1M983 847.5h1M1028 847.5h1M1057 847.5h2M1060 847.5h2M1240 847.5h1M1282 847.5h3M1294 847.5h1M31 848.5h3M36 848.5h2M259 848.5h2M273 848.5h4M285 848.5h1M345 848.5h1M359 848.5h2M478 848.5h1M850 848.5h5M861 848.5h2M870 848.5h2M891 848.5h2M937 848.5h3M959 848.5h1M984 848.5h1M1059 848.5h1M1241 848.5h1M1295 848.5h2M34 849.5h2M277 849.5h4M284 849.5h1M346 849.5h1M358 849.5h1M479 849.5h1M841 849.5h1M848 849.5h2M863 849.5h3M868 849.5h2M958 849.5h1M1242 849.5h1M1297 849.5h1M1311 849.5h5M281 850.5h3M347 850.5h2M357 850.5h1M480 850.5h1M668 850.5h1M846 850.5h2M866 850.5h2M957 850.5h1M1243 850.5h1M1298 850.5h1M1303 850.5h8M107 851.5h9M349 851.5h4M356 851.5h1M663 851.5h5M844 851.5h2M956 851.5h1M986 851.5h1M1003 851.5h1M1244 851.5h2M1299 851.5h4M353 852.5h3M660 852.5h3M843 852.5h1M955 852.5h1M987 852.5h1M1001 852.5h2M1004 852.5h1M1246 852.5h1M482 853.5h1M942 853.5h1M954 853.5h1M988 853.5h2M999 853.5h2M1247 853.5h2M953 854.5h1M990 854.5h2M998 854.5h1M1249 854.5h2M952 855.5h1M992 855.5h2M996 855.5h2M1006 855.5h1M1251 855.5h4M944 856.5h1M994 856.5h2M1007 856.5h1M1255 856.5h5M1008 857.5h1M950 858.5h1M949 859.5h1M948 860.5h1M1010 860.5h1M524 861.5h1M947 861.5h1M1011 861.5h2M525 862.5h2M1013 862.5h2M527 863.5h1M1015 863.5h3M528 864.5h1M1018 864.5h2M529 865.5h2M531 866.5h1M532 867.5h2M534 868.5h2M507 869.5h1M536 869.5h2M506 870.5h1M508 870.5h1M538 870.5h3M563 870.5h1M634 870.5h3M649 870.5h2M505 871.5h1M509 871.5h1M541 871.5h2M562 871.5h1M564 871.5h1M587 871.5h2M632 871.5h2M637 871.5h4M645 871.5h4M504 872.5h1M510 872.5h1M543 872.5h3M561 872.5h1M565 872.5h1M589 872.5h2M630 872.5h2M641 872.5h4M503 873.5h1M511 873.5h2M546 873.5h2M560 873.5h1M566 873.5h1M591 873.5h3M628 873.5h2M502 874.5h1M513 874.5h1M548 874.5h1M567 874.5h2M594 874.5h2M501 875.5h1M514 875.5h1M549 875.5h2M569 875.5h1M596 875.5h1M492 876.5h3M500 876.5h1M515 876.5h1M551 876.5h1M558 876.5h1M570 876.5h1M597 876.5h1M495 877.5h5M552 877.5h1M557 877.5h1M571 877.5h1M598 877.5h1M553 878.5h2M556 878.5h1M572 878.5h1M583 878.5h1M599 878.5h2M555 879.5h1M573 879.5h1M601 879.5h1M574 880.5h1M602 880.5h1M575 881.5h1M603 881.5h9M576 882.5h1M612 882.5h1M577 883.5h1M578 884.5h1M579 885.5h1M614 885.5h1M615 886.5h1M616 887.5h1M618 890.5h1" fill="none" stroke="#1e90ff" stroke-width="1"/>
</g>
<text x="0" y="762.5" font-size="9.5" fill="#000" stroke="#000" stroke-width="0.25" textLength="67" lengthAdjust="spacingAndGlyphs">RSI(14) 53.7525</text>
<g shape-rendering="crispEdges">
<rect x="0" y="23" width="1687" height="1" fill="#000"/>
<rect x="1686" y="23" width="1" height="902" fill="#000"/>
<rect x="0" y="576" width="1687" height="1" fill="#000"/>
<rect x="0" y="577" width="1687" height="1" fill="#fff"/>
<rect x="0" y="578" width="1687" height="1" fill="#000"/>
<rect x="0" y="748" width="1687" height="1" fill="#000"/>
<rect x="0" y="749" width="1687" height="1" fill="#fff"/>
<rect x="0" y="750" width="1687" height="1" fill="#000"/>
<rect x="0" y="924" width="1687" height="1" fill="#000"/>
<rect x="1732" y="21" width="1" height="924" fill="#d0d0d0"/>
<polygon points="1443,24 1453,24 1448,29" fill="#c0c0c0"/>
<rect x="1687" y="45" width="2" height="1" fill="#000"/>
<rect x="1687" y="78" width="2" height="1" fill="#000"/>
<rect x="1687" y="111" width="2" height="1" fill="#000"/>
<rect x="1687" y="144" width="2" height="1" fill="#000"/>
<rect x="1687" y="177" width="2" height="1" fill="#000"/>
<rect x="1687" y="210" width="2" height="1" fill="#000"/>
<rect x="1687" y="243" width="2" height="1" fill="#000"/>
<rect x="1687" y="276" width="2" height="1" fill="#000"/>
<rect x="1687" y="309" width="2" height="1" fill="#000"/>
<rect x="1687" y="342" width="2" height="1" fill="#000"/>
<rect x="1687" y="375" width="2" height="1" fill="#000"/>
<rect x="1687" y="408" width="2" height="1" fill="#000"/>
<rect x="1687" y="441" width="2" height="1" fill="#000"/>
<rect x="1687" y="474" width="2" height="1" fill="#000"/>
<rect x="1687" y="507" width="2" height="1" fill="#000"/>
<rect x="1687" y="540" width="2" height="1" fill="#000"/>
<rect x="1687" y="573" width="2" height="1" fill="#000"/>
</g>
<text x="1692.0" y="48.9" font-size="9.5" fill="#000" stroke="#000" stroke-width="0.25" textLength="33.0" lengthAdjust="spacingAndGlyphs">145.160</text>
<text x="1692.0" y="81.9" font-size="9.5" fill="#000" stroke="#000" stroke-width="0.25" textLength="33.0" lengthAdjust="spacingAndGlyphs">143.800</text>
<text x="1692.0" y="114.9" font-size="9.5" fill="#000" stroke="#000" stroke-width="0.25" textLength="33.0" lengthAdjust="spacingAndGlyphs">142.480</text>
<text x="1692.0" y="147.9" font-size="9.5" fill="#000" stroke="#000" stroke-width="0.25" textLength="33.0" lengthAdjust="spacingAndGlyphs">141.120</text>
<text x="1692.0" y="180.9" font-size="9.5" fill="#000" stroke="#000" stroke-width="0.25" textLength="33.0" lengthAdjust="spacingAndGlyphs">139.760</text>
<text x="1692.0" y="213.9" font-size="9.5" fill="#000" stroke="#000" stroke-width="0.25" textLength="33.0" lengthAdjust="spacingAndGlyphs">138.440</text>
<text x="1692.0" y="246.9" font-size="9.5" fill="#000" stroke="#000" stroke-width="0.25" textLength="33.0" lengthAdjust="spacingAndGlyphs">137.080</text>
<text x="1692.0" y="279.9" font-size="9.5" fill="#000" stroke="#000" stroke-width="0.25" textLength="33.0" lengthAdjust="spacingAndGlyphs">135.720</text>
<text x="1692.0" y="312.9" font-size="9.5" fill="#000" stroke="#000" stroke-width="0.25" textLength="33.0" lengthAdjust="spacingAndGlyphs">134.400</text>
<text x="1692.0" y="345.9" font-size="9.5" fill="#000" stroke="#000" stroke-width="0.25" textLength="33.0" lengthAdjust="spacingAndGlyphs">133.040</text>
<text x="1692.0" y="378.9" font-size="9.5" fill="#000" stroke="#000" stroke-width="0.25" textLength="33.0" lengthAdjust="spacingAndGlyphs">131.680</text>
<text x="1692.0" y="411.9" font-size="9.5" fill="#000" stroke="#000" stroke-width="0.25" textLength="33.0" lengthAdjust="spacingAndGlyphs">130.360</text>
<text x="1692.0" y="444.9" font-size="9.5" fill="#000" stroke="#000" stroke-width="0.25" textLength="33.0" lengthAdjust="spacingAndGlyphs">129.000</text>
<text x="1692.0" y="477.9" font-size="9.5" fill="#000" stroke="#000" stroke-width="0.25" textLength="33.0" lengthAdjust="spacingAndGlyphs">127.640</text>
<text x="1692.0" y="510.9" font-size="9.5" fill="#000" stroke="#000" stroke-width="0.25" textLength="33.0" lengthAdjust="spacingAndGlyphs">126.320</text>
<text x="1692.0" y="543.9" font-size="9.5" fill="#000" stroke="#000" stroke-width="0.25" textLength="33.0" lengthAdjust="spacingAndGlyphs">124.960</text>
<text x="1692.0" y="576.9" font-size="9.5" fill="#000" stroke="#000" stroke-width="0.25" textLength="33.0" lengthAdjust="spacingAndGlyphs">123.640</text>
<rect x="1688" y="237" width="41" height="11" fill="#ff0000" shape-rendering="crispEdges"/>
<text x="1692.0" y="245.9" font-size="9.5" fill="#fff" stroke="#fff" stroke-width="0.25" textLength="33.0" lengthAdjust="spacingAndGlyphs">137.081</text>
<rect x="1688" y="262" width="41" height="11" fill="#ff0000" shape-rendering="crispEdges"/>
<text x="1692.0" y="270.9" font-size="9.5" fill="#fff" stroke="#fff" stroke-width="0.25" textLength="33.0" lengthAdjust="spacingAndGlyphs">136.057</text>
<rect x="1688" y="297" width="41" height="11" fill="#000" shape-rendering="crispEdges"/>
<text x="1692.0" y="305.9" font-size="9.5" fill="#fff" stroke="#fff" stroke-width="0.25" textLength="33.0" lengthAdjust="spacingAndGlyphs">134.662</text>
<rect x="1688" y="317" width="41" height="11" fill="#32cd32" shape-rendering="crispEdges"/>
<text x="1692.0" y="325.9" font-size="9.5" fill="#fff" stroke="#fff" stroke-width="0.25" textLength="33.0" lengthAdjust="spacingAndGlyphs">133.822</text>
<rect x="1688" y="342" width="41" height="11" fill="#0000ff" shape-rendering="crispEdges"/>
<text x="1692.0" y="350.9" font-size="9.5" fill="#fff" stroke="#fff" stroke-width="0.25" textLength="33.0" lengthAdjust="spacingAndGlyphs">132.798</text>
<rect x="1688" y="367" width="41" height="11" fill="#0000ff" shape-rendering="crispEdges"/>
<text x="1692.0" y="375.9" font-size="9.5" fill="#fff" stroke="#fff" stroke-width="0.25" textLength="33.0" lengthAdjust="spacingAndGlyphs">131.774</text>
<text x="1690.0" y="589.0" font-size="9.5" fill="#000" stroke="#000" stroke-width="0.25" textLength="22.8" lengthAdjust="spacingAndGlyphs">1.894</text>
<text x="1690.0" y="640.0" font-size="9.5" fill="#000" stroke="#000" stroke-width="0.25" textLength="17.8" lengthAdjust="spacingAndGlyphs">0.00</text>
<text x="1690.0" y="745.0" font-size="9.5" fill="#000" stroke="#000" stroke-width="0.25" textLength="30.9" lengthAdjust="spacingAndGlyphs">-3.7183</text>
<g shape-rendering="crispEdges">
<rect x="1687" y="580" width="2" height="1" fill="#000"/>
<rect x="1687" y="636" width="1" height="1" fill="#000"/>
<rect x="1687" y="751" width="2" height="1" fill="#000"/>
</g>
<text x="1690.0" y="761.5" font-size="9.5" fill="#000" stroke="#000" stroke-width="0.25" textLength="15.2" lengthAdjust="spacingAndGlyphs">100</text>
<text x="1690.0" y="790.0" font-size="9.5" fill="#000" stroke="#000" stroke-width="0.25" textLength="10.1" lengthAdjust="spacingAndGlyphs">80</text>
<text x="1690.0" y="841.0" font-size="9.5" fill="#000" stroke="#000" stroke-width="0.25" textLength="10.1" lengthAdjust="spacingAndGlyphs">50</text>
<text x="1690.0" y="902.0" font-size="9.5" fill="#000" stroke="#000" stroke-width="0.25" textLength="10.1" lengthAdjust="spacingAndGlyphs">15</text>
<text x="1690.0" y="921.5" font-size="9.5" fill="#000" stroke="#000" stroke-width="0.25" textLength="5.1" lengthAdjust="spacingAndGlyphs">0</text>
<g shape-rendering="crispEdges">
<rect x="59" y="925" width="1" height="3" fill="#000"/>
<rect x="123" y="925" width="1" height="3" fill="#000"/>
<rect x="187" y="925" width="1" height="3" fill="#000"/>
<rect x="251" y="925" width="1" height="3" fill="#000"/>
<rect x="315" y="925" width="1" height="3" fill="#000"/>
<rect x="379" y="925" width="1" height="3" fill="#000"/>
<rect x="443" y="925" width="1" height="3" fill="#000"/>
<rect x="507" y="925" width="1" height="3" fill="#000"/>
<rect x="571" y="925" width="1" height="3" fill="#000"/>
<rect x="635" y="925" width="1" height="3" fill="#000"/>
<rect x="699" y="925" width="1" height="3" fill="#000"/>
<rect x="763" y="925" width="1" height="3" fill="#000"/>
<rect x="827" y="925" width="1" height="3" fill="#000"/>
<rect x="891" y="925" width="1" height="3" fill="#000"/>
<rect x="955" y="925" width="1" height="3" fill="#000"/>
<rect x="1019" y="925" width="1" height="3" fill="#000"/>
<rect x="1083" y="925" width="1" height="3" fill="#000"/>
<rect x="1147" y="925" width="1" height="3" fill="#000"/>
<rect x="1211" y="925" width="1" height="3" fill="#000"/>
<rect x="1275" y="925" width="1" height="3" fill="#000"/>
<rect x="1339" y="925" width="1" height="3" fill="#000"/>
<rect x="1403" y="925" width="1" height="3" fill="#000"/>
</g>
<text x="-0.6" y="937" font-size="9.5" fill="#000" stroke="#000" stroke-width="0.25" textLength="46.6" lengthAdjust="spacingAndGlyphs">8 Dec 2019</text>
<text x="58.0" y="937" font-size="9.5" fill="#000" stroke="#000" stroke-width="0.25" textLength="51.7" lengthAdjust="spacingAndGlyphs">27 Dec 2019</text>
<text x="122.0" y="937" font-size="9.5" fill="#000" stroke="#000" stroke-width="0.25" textLength="45.1" lengthAdjust="spacingAndGlyphs">6 Jan 2020</text>
<text x="186.0" y="937" font-size="9.5" fill="#000" stroke="#000" stroke-width="0.25" textLength="50.2" lengthAdjust="spacingAndGlyphs">15 Jan 2020</text>
<text x="250.0" y="937" font-size="9.5" fill="#000" stroke="#000" stroke-width="0.25" textLength="50.2" lengthAdjust="spacingAndGlyphs">24 Jan 2020</text>
<text x="314.0" y="937" font-size="9.5" fill="#000" stroke="#000" stroke-width="0.25" textLength="46.1" lengthAdjust="spacingAndGlyphs">3 Feb 2020</text>
<text x="378.0" y="937" font-size="9.5" fill="#000" stroke="#000" stroke-width="0.25" textLength="51.2" lengthAdjust="spacingAndGlyphs">12 Feb 2020</text>
<text x="442.0" y="937" font-size="9.5" fill="#000" stroke="#000" stroke-width="0.25" textLength="51.2" lengthAdjust="spacingAndGlyphs">21 Feb 2020</text>
<text x="506.0" y="937" font-size="9.5" fill="#000" stroke="#000" stroke-width="0.25" textLength="46.1" lengthAdjust="spacingAndGlyphs">2 Mar 2020</text>
<text x="570.0" y="937" font-size="9.5" fill="#000" stroke="#000" stroke-width="0.25" textLength="50.5" lengthAdjust="spacingAndGlyphs">11 Mar 2020</text>
<text x="634.0" y="937" font-size="9.5" fill="#000" stroke="#000" stroke-width="0.25" textLength="51.2" lengthAdjust="spacingAndGlyphs">20 Mar 2020</text>
<text x="698.0" y="937" font-size="9.5" fill="#000" stroke="#000" stroke-width="0.25" textLength="51.2" lengthAdjust="spacingAndGlyphs">30 Mar 2020</text>
<text x="762.0" y="937" font-size="9.5" fill="#000" stroke="#000" stroke-width="0.25" textLength="44.1" lengthAdjust="spacingAndGlyphs">8 Apr 2020</text>
<text x="826.0" y="937" font-size="9.5" fill="#000" stroke="#000" stroke-width="0.25" textLength="49.2" lengthAdjust="spacingAndGlyphs">19 Apr 2020</text>
<text x="890.0" y="937" font-size="9.5" fill="#000" stroke="#000" stroke-width="0.25" textLength="49.2" lengthAdjust="spacingAndGlyphs">28 Apr 2020</text>
<text x="954.0" y="937" font-size="9.5" fill="#000" stroke="#000" stroke-width="0.25" textLength="47.7" lengthAdjust="spacingAndGlyphs">7 May 2020</text>
<text x="1018.0" y="937" font-size="9.5" fill="#000" stroke="#000" stroke-width="0.25" textLength="52.7" lengthAdjust="spacingAndGlyphs">17 May 2020</text>
<text x="1082.0" y="937" font-size="9.5" fill="#000" stroke="#000" stroke-width="0.25" textLength="52.7" lengthAdjust="spacingAndGlyphs">26 May 2020</text>
<text x="1146.0" y="937" font-size="9.5" fill="#000" stroke="#000" stroke-width="0.25" textLength="45.1" lengthAdjust="spacingAndGlyphs">4 Jun 2020</text>
<text x="1210.0" y="937" font-size="9.5" fill="#000" stroke="#000" stroke-width="0.25" textLength="50.2" lengthAdjust="spacingAndGlyphs">14 Jun 2020</text>
<text x="1274.0" y="937" font-size="9.5" fill="#000" stroke="#000" stroke-width="0.25" textLength="50.2" lengthAdjust="spacingAndGlyphs">23 Jun 2020</text>
<text x="1338.0" y="937" font-size="9.5" fill="#000" stroke="#000" stroke-width="0.25" textLength="42.1" lengthAdjust="spacingAndGlyphs">2 Jul 2020</text>
<text x="1402.0" y="937" font-size="9.5" fill="#000" stroke="#000" stroke-width="0.25" textLength="47.2" lengthAdjust="spacingAndGlyphs">12 Jul 2020</text>
<g id="tb">
<rect x="0" y="0" width="1733" height="19" fill="#f0f0f0"/>
<rect x="0" y="19" width="1733" height="1" fill="#b4b4b4" shape-rendering="crispEdges"/>
<rect x="0" y="20" width="1733" height="1" fill="#828282" shape-rendering="crispEdges"/>
<rect x="0" y="21" width="1733" height="2" fill="#fff" shape-rendering="crispEdges"/>
<rect x="-1" y="-2" width="10" height="15" fill="#fff" stroke="#3a76c8" stroke-width="1.6"/>
<rect x="0" y="2" width="8.5" height="1.2" fill="#c4d8f4"/>
<rect x="0" y="5" width="8.5" height="1.2" fill="#c4d8f4"/>
<rect x="0" y="8" width="8.5" height="1.2" fill="#c4d8f4"/>
<rect x="22.5" y="-2" width="11.5" height="14.5" fill="#fbfbfb" stroke="#a8a090" stroke-width="1"/>
<path d="M25 2 l2 2 M31 2 l-1 2" stroke="#808080" fill="none"/>
<circle cx="30.5" cy="8" r="4.8" fill="#d6e6f6" fill-opacity="0.85" stroke="#6a9ad8" stroke-width="1.2"/>
<rect x="29" y="5.5" width="2.4" height="4" fill="#9ab0c8"/>
<line x1="34.5" y1="12" x2="39" y2="16" stroke="#c8a018" stroke-width="2.4"/>
<rect x="47" y="0" width="1" height="17" fill="#a0a0a0" shape-rendering="crispEdges"/>
<path d="M57.5 -2 h8 l3.5 3.5 v11 h-11.5 z" fill="#fcfcfc" stroke="#8c8c8c" stroke-width="1"/>
<rect x="59.5" y="1" width="3" height="1.6" fill="#909090"/>
<rect x="59.5" y="5" width="5" height="0.8" fill="#a0a0a0"/>
<rect x="59.5" y="7.5" width="5" height="0.8" fill="#a0a0a0"/>
<rect x="59.5" y="10" width="5" height="0.8" fill="#a0a0a0"/>
<path d="M65.4 5.6 h3.2 v3.8 h3.8 v3.2 h-3.8 v3.8 h-3.2 v-3.8 h-3.8 v-3.2 h3.8 z" fill="#18c818" stroke="#0a7a0a" stroke-width="0.8"/>
<text x="76" y="10" font-size="12" fill="#000" textLength="36.5" lengthAdjust="spacingAndGlyphs" style="font-family:'Noto Sans CJK SC',sans-serif">新订单</text>
<path d="M124.5 8 L131 -1 L140 5 L133 14 Z" fill="#e8b428" stroke="#a87810" stroke-width="1"/>
<path d="M124.5 8 L133 14 L133.5 16 L125 10.5 Z" fill="#f4e6b8" stroke="#a87810" stroke-width="0.7"/>
<path d="M128 6 L132 1 L137.5 5" fill="none" stroke="#f8dc78" stroke-width="1.2"/>
<rect x="155" y="-2" width="9" height="11" fill="#5aa0e8" stroke="#2c6cc0" stroke-width="1"/>
<rect x="157" y="2" width="5" height="1.5" fill="#d8ecff"/>
<path d="M153 14.5 a3 3 0 0 1 1.2 -5.6 a3.6 3.6 0 0 1 6.6 -1 a3.2 3.2 0 0 1 5 2 a2.6 2.6 0 0 1 -0.4 4.6 z" fill="#e8f0fa" stroke="#8098c0" stroke-width="1"/>
<circle cx="188" cy="7" r="7.6" fill="none" stroke="#c0d0e8" stroke-width="1.4"/>
<circle cx="188" cy="7" r="5" fill="none" stroke="#7ea0d8" stroke-width="1.5"/>
<path d="M188 7 L188 15 A8 8 0 0 0 195.5 9 Z" fill="#58b858" fill-opacity="0.7"/>
<circle cx="188" cy="6.5" r="2" fill="#3068c8"/>
<path d="M188 7 v8" stroke="#2a9a2a" stroke-width="1.6"/>
<ellipse cx="215" cy="4" rx="8" ry="3.2" fill="#58a8e0" stroke="#3880c0" stroke-width="0.8"/>
<path d="M211.5 3 q3.5 -7 7 0 z" fill="#58a8e0"/>
<path d="M208 5.5 q7 5 14 0 l-3 7.5 q-4 3 -8 0 z" fill="#f0c838" stroke="#c89a18" stroke-width="0.8"/>
<circle cx="219.5" cy="11" r="4.2" fill="#e02818" stroke="#a01008" stroke-width="0.7"/>
<rect x="217.8" y="9.3" width="3.4" height="3.4" fill="#fff"/>
<text x="228" y="10" font-size="12" fill="#000" textLength="47" lengthAdjust="spacingAndGlyphs" style="font-family:'Noto Sans CJK SC',sans-serif">自动交易</text>
<rect x="283" y="0" width="1" height="17" fill="#a0a0a0" shape-rendering="crispEdges"/>
<rect x="287" y="1" width="3" height="1" fill="#b8b8b8" shape-rendering="crispEdges"/>
<rect x="287" y="3" width="3" height="1" fill="#b8b8b8" shape-rendering="crispEdges"/>
<rect x="287" y="5" width="3" height="1" fill="#b8b8b8" shape-rendering="crispEdges"/>
<rect x="287" y="7" width="3" height="1" fill="#b8b8b8" shape-rendering="crispEdges"/>
<rect x="287" y="9" width="3" height="1" fill="#b8b8b8" shape-rendering="crispEdges"/>
<rect x="287" y="11" width="3" height="1" fill="#b8b8b8" shape-rendering="crispEdges"/>
<rect x="287" y="13" width="3" height="1" fill="#b8b8b8" shape-rendering="crispEdges"/>
<rect x="287" y="15" width="3" height="1" fill="#b8b8b8" shape-rendering="crispEdges"/>
<path d="M301.5 1 v14 M299 12.5 h14" stroke="#5a5a5a" stroke-width="1.3" fill="none"/>
<path d="M300 3 l1.5 -2 l1.5 2 M311 11 l2 1.5 l-2 1.5" stroke="#5a5a5a" stroke-width="1" fill="none"/>
<path d="M307.5 2.5 v8 M305.5 9.5 h2 M307.5 3 h2" stroke="#1a9a1a" stroke-width="1.4" fill="none"/>
<rect x="321" y="0" width="1" height="17" fill="#a0a0a0" shape-rendering="crispEdges"/>
<rect x="322" y="0" width="24" height="18" fill="#f8f8f8"/>
<path d="M329.5 1 v14 M327 12.5 h14" stroke="#5a5a5a" stroke-width="1.3" fill="none"/>
<path d="M328 3 l1.5 -2 l1.5 2 M339 11 l2 1.5 l-2 1.5" stroke="#5a5a5a" stroke-width="1" fill="none"/>
<path d="M335.5 0 v11" stroke="#0a6a0a" stroke-width="1"/>
<rect x="333.5" y="1.5" width="4" height="7" fill="#28d028" stroke="#0a7a0a" stroke-width="0.8"/>
<path d="M357.5 1 v14 M355 12.5 h14" stroke="#5a5a5a" stroke-width="1.3" fill="none"/>
<path d="M356 3 l1.5 -2 l1.5 2 M367 11 l2 1.5 l-2 1.5" stroke="#5a5a5a" stroke-width="1" fill="none"/>
<path d="M356.5 10 q5 -9 8 -5 l4 3" stroke="#2a9a2a" stroke-width="1.3" fill="none"/>
<rect x="378" y="0" width="1" height="17" fill="#a0a0a0" shape-rendering="crispEdges"/>
<line x1="397" y1="10" x2="402.5" y2="15.5" stroke="#c8a018" stroke-width="2.6"/>
<circle cx="393" cy="5.5" r="5.6" fill="#eaf2fc" stroke="#5a8ad0" stroke-width="1.3"/>
<rect x="389.8" y="4.6" width="6.4" height="1.8" fill="#3a6ac0"/>
<rect x="392.1" y="2.3" width="1.8" height="6.4" fill="#3a6ac0"/>
<line x1="425" y1="10" x2="430.5" y2="15.5" stroke="#c8a018" stroke-width="2.6"/>
<circle cx="421" cy="5.5" r="5.6" fill="#eaf2fc" stroke="#5a8ad0" stroke-width="1.3"/>
<rect x="417.8" y="4.6" width="6.4" height="1.8" fill="#3a6ac0"/>
<rect x="443" y="0" width="8" height="7" fill="#5a9a3a"/>
<rect x="444.2" y="2.6" width="5.6" height="3.2" fill="#e8f0ff"/>
<rect x="452" y="0" width="8" height="7" fill="#3a6ac8"/>
<rect x="453.2" y="2.6" width="5.6" height="3.2" fill="#e8f0ff"/>
<rect x="443" y="8" width="8" height="7" fill="#3a6ac8"/>
<rect x="444.2" y="10.6" width="5.6" height="3.2" fill="#e8f0ff"/>
<rect x="452" y="8" width="8" height="7" fill="#5a9a3a"/>
<rect x="453.2" y="10.6" width="5.6" height="3.2" fill="#e8f0ff"/>
<rect x="468" y="0" width="1" height="17" fill="#a0a0a0" shape-rendering="crispEdges"/>
<rect x="472" y="0" width="27" height="18" fill="#f8f8f8"/>
<path d="M480.5 1 v14 M478 12.5 h14" stroke="#5a5a5a" stroke-width="1.3" fill="none"/>
<path d="M479 3 l1.5 -2 l1.5 2 M490 11 l2 1.5 l-2 1.5" stroke="#5a5a5a" stroke-width="1" fill="none"/>
<polygon points="486,3 490.5,6 486,9" fill="#28b028"/>
<rect x="501" y="0" width="1" height="17" fill="#a0a0a0" shape-rendering="crispEdges"/>
<rect x="502" y="0" width="25" height="18" fill="#f8f8f8"/>
<path d="M508.5 1 v14 M506 12.5 h14" stroke="#5a5a5a" stroke-width="1.3" fill="none"/>
<path d="M507 3 l1.5 -2 l1.5 2 M518 11 l2 1.5 l-2 1.5" stroke="#5a5a5a" stroke-width="1" fill="none"/>
<path d="M515.5 1 v10" stroke="#606060" stroke-width="1"/>
<path d="M521 5.5 h-4 m1.8 -2 l-2 2 l2 2" stroke="#d03818" stroke-width="1.1" fill="none"/>
<rect x="530" y="0" width="1" height="17" fill="#a0a0a0" shape-rendering="crispEdges"/>
<path d="M541.5 -1 h6 l2.5 2.5 v9 h-8.5 z" fill="#fcfcfc" stroke="#8c8c8c" stroke-width="1"/>
<path d="M548.4 5.6 h3.2 v3.8 h3.8 v3.2 h-3.8 v3.8 h-3.2 v-3.8 h-3.8 v-3.2 h3.8 z" fill="#18c818" stroke="#0a7a0a" stroke-width="0.8"/>
<polygon points="562,6 567,6 564.5,9" fill="#000"/>
<circle cx="586" cy="6" r="7.2" fill="#2a66c8" stroke="#184898" stroke-width="0.8"/>
<circle cx="586" cy="6" r="4.8" fill="#f4f8ff"/>
<path d="M586 3 v3.2 h2.6" stroke="#404040" stroke-width="1" fill="none"/>
<polygon points="601,6 606,6 603.5,9" fill="#000"/>
<rect x="617.5" y="-1" width="15" height="14" fill="#fafcff" stroke="#3a6ac8" stroke-width="1.4"/>
<rect x="617.5" y="-1" width="15" height="3" fill="#3a6ac8"/>
<path d="M620 6 l3 -1 l3 1 l4 -2" stroke="#c83818" stroke-width="1" fill="none"/>
<path d="M620 10.5 l3 -1.5 l3 1.5 l4 -2" stroke="#2a9a2a" stroke-width="1" fill="none"/>
<polygon points="640,6 645,6 642.5,9" fill="#000"/>
<rect x="651" y="0" width="1" height="17" fill="#a0a0a0" shape-rendering="crispEdges"/>
<rect x="655" y="1" width="3" height="1" fill="#b8b8b8" shape-rendering="crispEdges"/>
<rect x="655" y="3" width="3" height="1" fill="#b8b8b8" shape-rendering="crispEdges"/>
<rect x="655" y="5" width="3" height="1" fill="#b8b8b8" shape-rendering="crispEdges"/>
<rect x="655" y="7" width="3" height="1" fill="#b8b8b8" shape-rendering="crispEdges"/>
<rect x="655" y="9" width="3" height="1" fill="#b8b8b8" shape-rendering="crispEdges"/>
<rect x="655" y="11" width="3" height="1" fill="#b8b8b8" shape-rendering="crispEdges"/>
<rect x="655" y="13" width="3" height="1" fill="#b8b8b8" shape-rendering="crispEdges"/>
<rect x="655" y="15" width="3" height="1" fill="#b8b8b8" shape-rendering="crispEdges"/>
<rect x="661" y="0" width="1" height="17" fill="#a0a0a0" shape-rendering="crispEdges"/>
<rect x="662" y="0" width="25" height="18" fill="#f8f8f8"/>
<path d="M669.5 0 L669.5 11.5 L672.3 9 L674.3 13.6 L676.2 12.8 L674.2 8.4 L678 8.2 Z" fill="#404040"/>
<path d="M702 0 v14 M694 7.5 h16" stroke="#505050" stroke-width="1" shape-rendering="crispEdges"/>
<rect x="700" y="5.5" width="4" height="4" fill="#f0f0f0"/>
<path d="M702 5 v5 M699.5 7.5 h5" stroke="#505050" stroke-width="1" shape-rendering="crispEdges"/>
<rect x="718" y="0" width="1" height="17" fill="#a0a0a0" shape-rendering="crispEdges"/>
<rect x="735" y="1" width="1.4" height="12.5" fill="#505050"/>
<rect x="758" y="7" width="12.5" height="1.4" fill="#505050"/>
<line x1="786" y1="13.5" x2="798.5" y2="1.5" stroke="#505050" stroke-width="1.3"/>
<path d="M812 12 L824.5 2.3 M814 13.5 L826.5 3.8 M813.5 9.5 l1.8 4 M816.3 7.3 l1.8 4 M819.1 5.1 l1.8 4 M821.9 2.9 l1.8 4 M824 1 l1.6 3.6" stroke="#505050" stroke-width="1" fill="none"/>
<text x="823" y="15.5" font-size="7" font-weight="bold" fill="#404040">E</text>
<line x1="841" y1="1.5" x2="853" y2="1.5" stroke="#505050" stroke-width="1" stroke-dasharray="1,1"/>
<line x1="841" y1="4.5" x2="853" y2="4.5" stroke="#505050" stroke-width="1" stroke-dasharray="1,1"/>
<line x1="841" y1="8" x2="853" y2="8" stroke="#505050" stroke-width="1" stroke-dasharray="1,1"/>
<line x1="841" y1="11.5" x2="853" y2="11.5" stroke="#505050" stroke-width="1" stroke-dasharray="1,1"/>
<text x="851.5" y="15.5" font-size="7" font-weight="bold" fill="#404040">F</text>
<text x="871.5" y="12" font-size="13" font-weight="bold" fill="#606060">A</text>
<rect x="898.5" y="0.5" width="11" height="12" fill="none" stroke="#606060" stroke-width="1" stroke-dasharray="1,1"/>
<text x="900.3" y="11.5" font-size="11.5" font-weight="bold" fill="#606060">T</text>
<path d="M926 2.5 l3 -3 l3 3 z M926 5 l3 3 l3 -3 z M933 9.5 l3 -3 l3 3 z M933 11 l3 3 l3 -3 z" fill="#505050" transform="rotate(-20 932 7)"/>
<polygon points="946,6 951,6 948.5,9" fill="#000"/>
<rect x="957" y="0" width="1" height="17" fill="#a0a0a0" shape-rendering="crispEdges"/>
<rect x="961" y="1" width="3" height="1" fill="#b8b8b8" shape-rendering="crispEdges"/>
<rect x="961" y="3" width="3" height="1" fill="#b8b8b8" shape-rendering="crispEdges"/>
<rect x="961" y="5" width="3" height="1" fill="#b8b8b8" shape-rendering="crispEdges"/>
<rect x="961" y="7" width="3" height="1" fill="#b8b8b8" shape-rendering="crispEdges"/>
<rect x="961" y="9" width="3" height="1" fill="#b8b8b8" shape-rendering="crispEdges"/>
<rect x="961" y="11" width="3" height="1" fill="#b8b8b8" shape-rendering="crispEdges"/>
<rect x="961" y="13" width="3" height="1" fill="#b8b8b8" shape-rendering="crispEdges"/>
<rect x="961" y="15" width="3" height="1" fill="#b8b8b8" shape-rendering="crispEdges"/>
<text x="972.5" y="11.3" font-size="10.5" fill="#505050" textLength="13" lengthAdjust="spacingAndGlyphs">M1</text>
<text x="1000.5" y="11.3" font-size="10.5" fill="#505050" textLength="13" lengthAdjust="spacingAndGlyphs">M5</text>
<text x="1026.5" y="11.3" font-size="10.5" fill="#505050" textLength="18" lengthAdjust="spacingAndGlyphs">M15</text>
<text x="1054.5" y="11.3" font-size="10.5" fill="#505050" textLength="18" lengthAdjust="spacingAndGlyphs">M30</text>
<text x="1085.5" y="11.3" font-size="10.5" fill="#505050" textLength="12" lengthAdjust="spacingAndGlyphs">H1</text>
<text x="1112.5" y="11.3" font-size="10.5" fill="#505050" textLength="12.5" lengthAdjust="spacingAndGlyphs">H4</text>
<rect x="1135" y="0" width="1" height="17" fill="#a0a0a0" shape-rendering="crispEdges"/>
<rect x="1136" y="0" width="25" height="18" fill="#f8f8f8"/>
<text x="1141.5" y="11.3" font-size="10.5" fill="#505050" textLength="12.5" lengthAdjust="spacingAndGlyphs">D1</text>
<text x="1169" y="11.3" font-size="10.5" fill="#505050" textLength="15" lengthAdjust="spacingAndGlyphs">W1</text>
<text x="1195.5" y="11.3" font-size="10.5" fill="#505050" textLength="15" lengthAdjust="spacingAndGlyphs">MN</text>
<rect x="1218" y="0" width="1" height="17" fill="#a0a0a0" shape-rendering="crispEdges"/>
<circle cx="1688" cy="4.5" r="4.2" fill="#f0f4ff" stroke="#2a62c8" stroke-width="1.8"/>
<line x1="1685" y1="8" x2="1680.5" y2="12" stroke="#2a62c8" stroke-width="2.4" stroke-linecap="round"/>
<path d="M1716 -2 h10 a3 3 0 0 1 3 3 v3 a3 3 0 0 1 -3 3 h-1 l1 3 l-4 -3 h-6 a3 3 0 0 1 -3 -3 v-3 a3 3 0 0 1 3 -3 z" fill="#e4e4e4" stroke="#909090" stroke-width="1"/>
<path d="M1709.5 4.5 h7 a3 3 0 0 1 3 3 v1 a3 3 0 0 1 -3 3 h-4 l-3 2.5 l0.5 -2.5 h-0.5 a3 3 0 0 1 -3 -3 v-1 a3 3 0 0 1 3 -3 z" fill="#f8f8f8" stroke="#888888" stroke-width="1"/>
</g>
</svg>
</body></html>
